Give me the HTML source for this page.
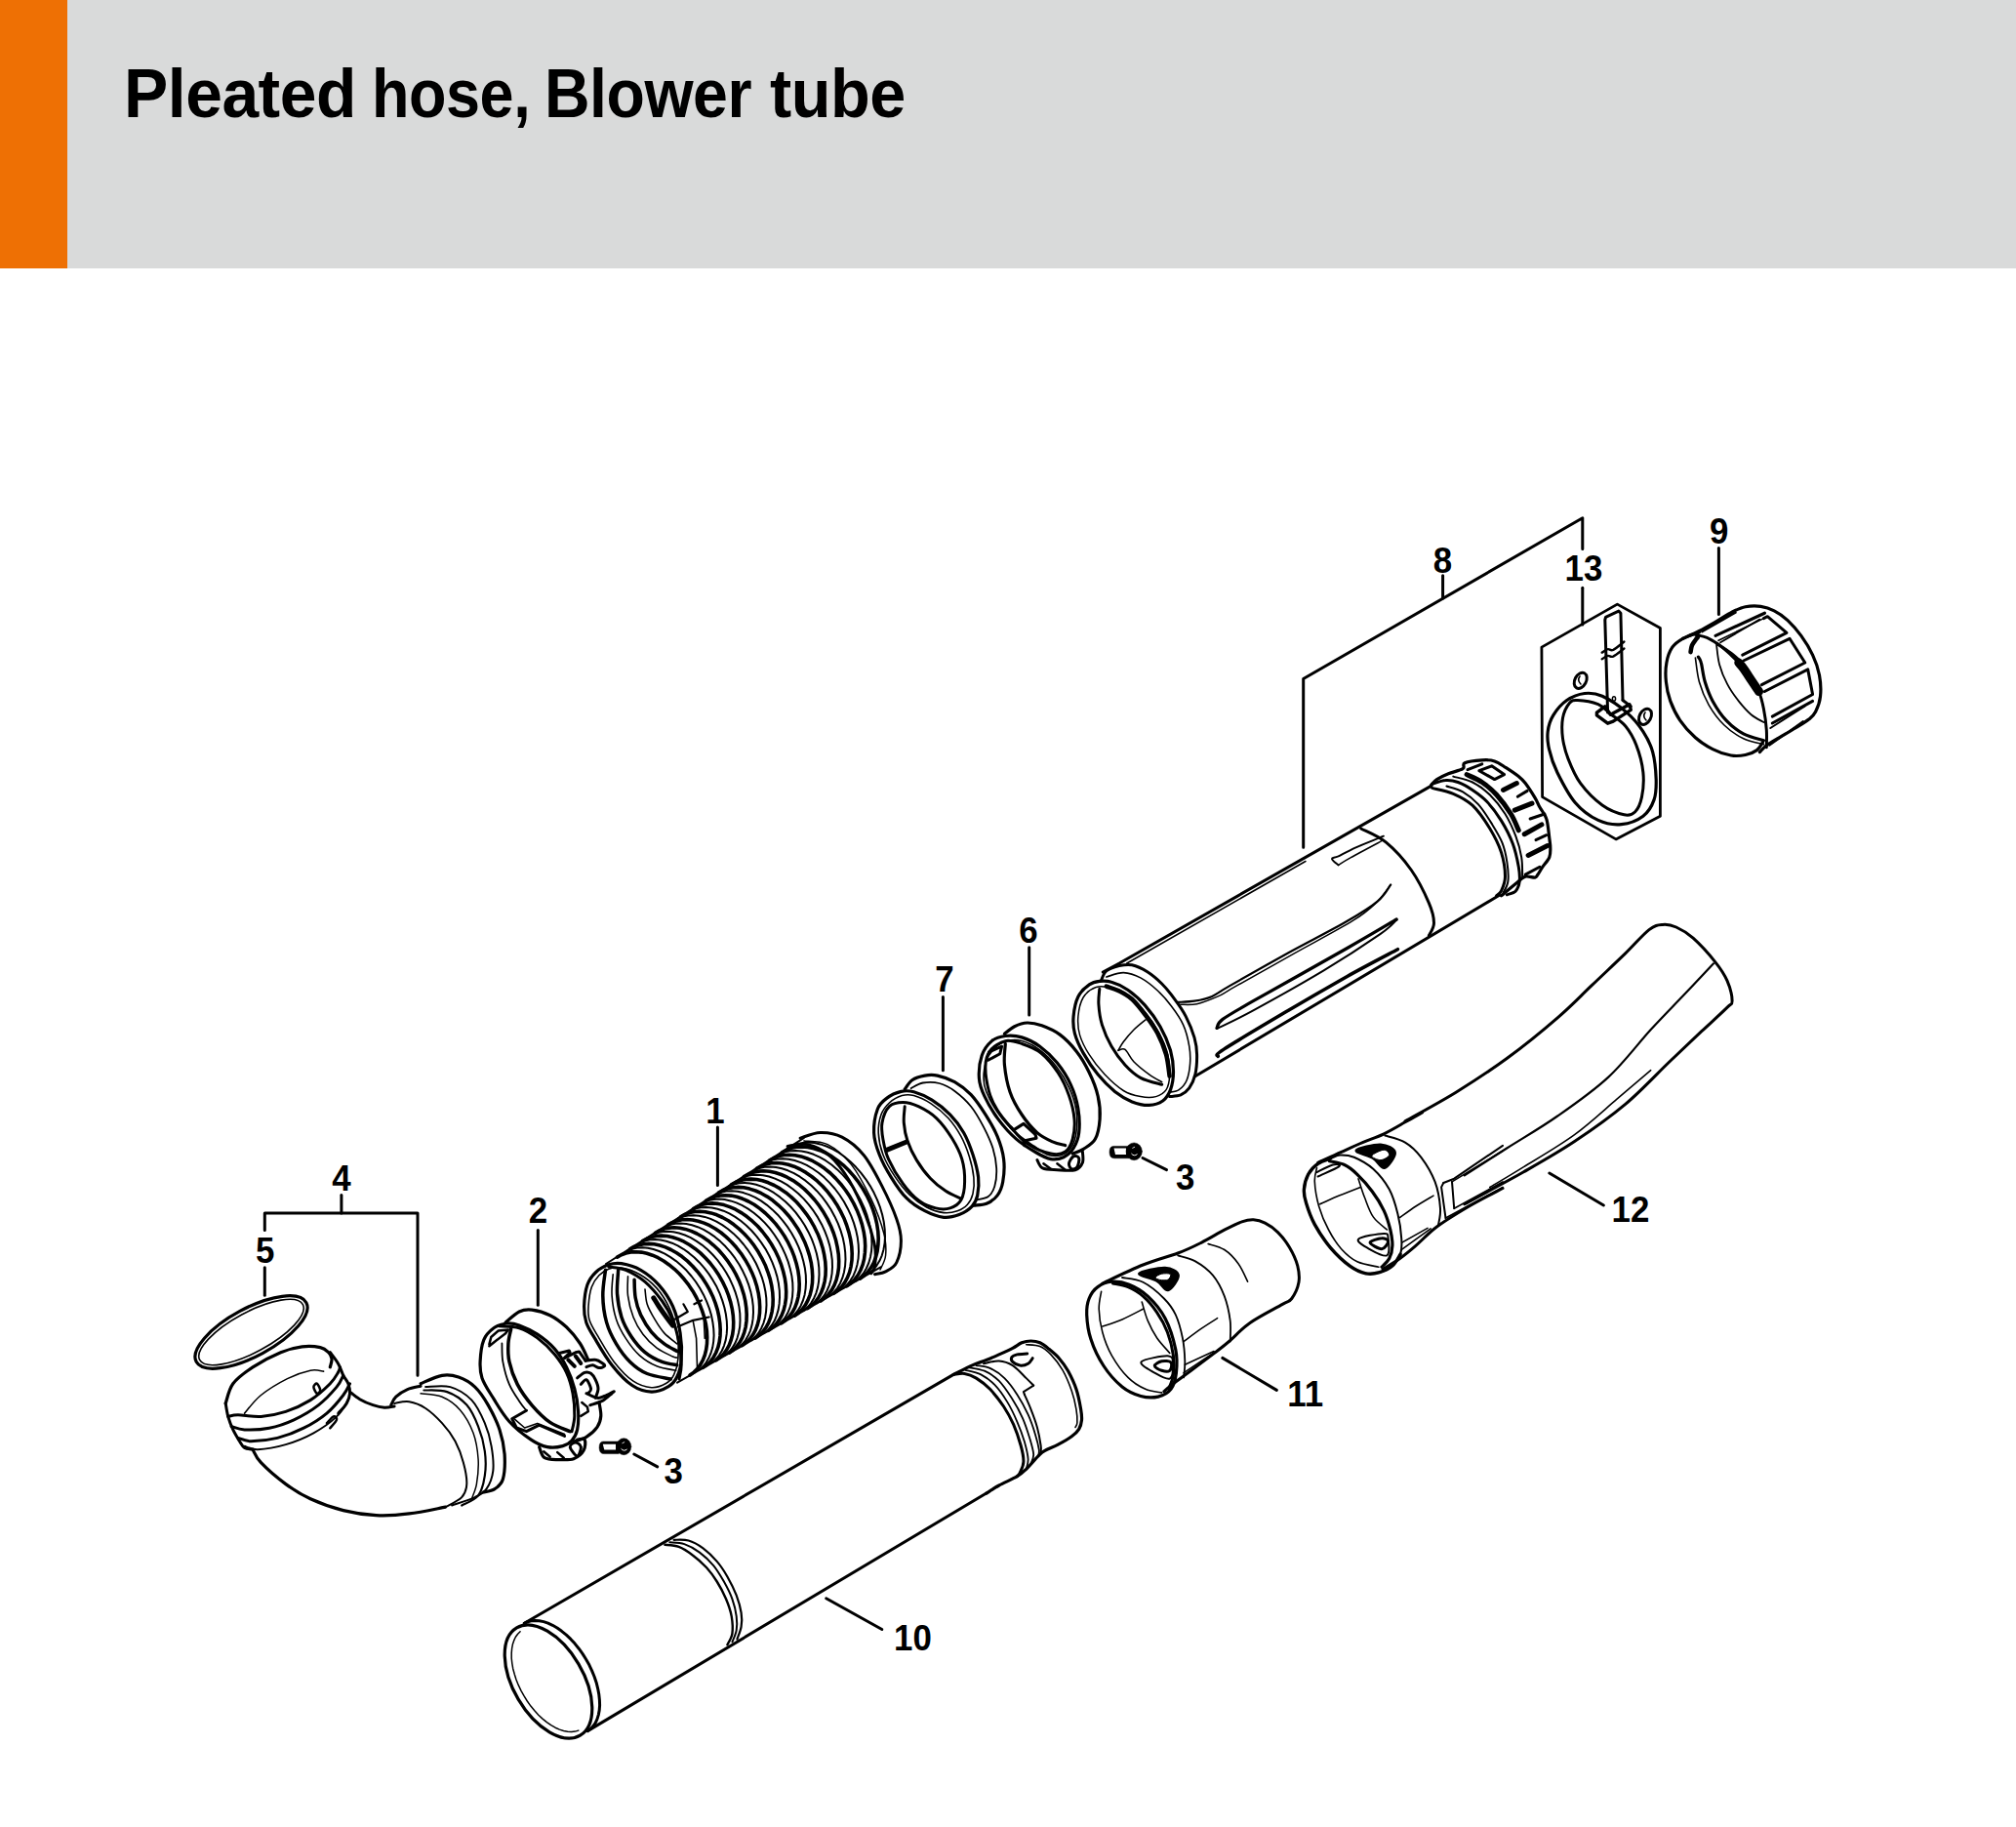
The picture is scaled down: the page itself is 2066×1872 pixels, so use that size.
<!DOCTYPE html>
<html><head><meta charset="utf-8"><style>
html,body{margin:0;padding:0;background:#fff;width:2066px;height:1872px;overflow:hidden}
#hdr{position:absolute;left:0;top:0;width:2066px;height:275px;background:#d9dada}
#bar{position:absolute;left:0;top:0;width:69px;height:275px;background:#ee7004}
.tw{position:absolute;top:55.5px;font-family:"Liberation Sans",sans-serif;font-weight:bold;font-size:70.5px;line-height:80px;color:#000;white-space:nowrap;letter-spacing:-0.5px;transform:scaleX(0.925);transform-origin:0 0}
svg{position:absolute;left:0;top:0}
svg path,svg ellipse{fill:none;stroke:#000;stroke-linecap:round;stroke-linejoin:round}
svg text{font-family:"Liberation Sans",sans-serif;font-weight:bold;text-anchor:middle;fill:#000}
</style></head><body>
<div id="hdr"></div><div id="bar"></div>
<div class="tw" style="left:127.19px;transform:scaleX(0.9622)">Pleated</div><div class="tw" style="left:380.53px;transform:scaleX(0.893)">hose,</div><div class="tw" style="left:558.43px;transform:scaleX(0.9142)">Blower</div><div class="tw" style="left:789.05px;transform:scaleX(0.9458)">tube</div>
<svg width="2066" height="1872" viewBox="0 0 2066 1872">
<text transform="translate(1761.8 556.5) scale(0.93 1)" font-size="37.5">9</text>
<text transform="translate(1478.4 587) scale(0.93 1)" font-size="37.5">8</text>
<text transform="translate(1623 595) scale(0.93 1)" font-size="37.5">13</text>
<text transform="translate(968 1016.3) scale(0.93 1)" font-size="37.5">7</text>
<text transform="translate(1054 965.5) scale(0.93 1)" font-size="37.5">6</text>
<text transform="translate(733 1151) scale(0.93 1)" font-size="37.5">1</text>
<text transform="translate(350 1220.4) scale(0.93 1)" font-size="37.5">4</text>
<text transform="translate(551.4 1252.7) scale(0.93 1)" font-size="37.5">2</text>
<text transform="translate(271.7 1293.6) scale(0.93 1)" font-size="37.5">5</text>
<text transform="translate(1214.6 1218.8) scale(0.93 1)" font-size="37.5">3</text>
<text transform="translate(1671 1251.8) scale(0.93 1)" font-size="37.5">12</text>
<text transform="translate(1337.8 1441) scale(0.93 1)" font-size="37.5">11</text>
<text transform="translate(690.3 1519.7) scale(0.93 1)" font-size="37.5">3</text>
<text transform="translate(935.5 1691.2) scale(0.93 1)" font-size="37.5">10</text>
<path d="M1335.7 868.3 L1335.7 695.5 L1621.8 530.8 L1621.8 562.6" stroke-width="3"/>
<path d="M1478.6 589.8L1478.6 613" stroke-width="3"/>
<path d="M1621.8 602.3L1621.8 640" stroke-width="3"/>
<path d="M1761.4 561.4L1761.4 629.4" stroke-width="3"/>
<path d="M966.4 1021.5L966.4 1096.8" stroke-width="3"/>
<path d="M1054.7 970.7L1054.7 1039.9" stroke-width="3"/>
<path d="M735.4 1155L735.4 1214.5" stroke-width="3"/>
<path d="M271.3 1260.4 L271.3 1243 L428 1243 L428 1409.2" stroke-width="3"/>
<path d="M349.9 1224.4L349.9 1243" stroke-width="3"/>
<path d="M271.3 1298.8L271.3 1327.3" stroke-width="3"/>
<path d="M551.3 1260.4L551.3 1337.3" stroke-width="3"/>
<path d="M1171 1186.5L1195.5 1198.7" stroke-width="3"/>
<path d="M649.8 1490L673.7 1502.9" stroke-width="3"/>
<path d="M1587.8 1202L1643.4 1235" stroke-width="3"/>
<path d="M1252.8 1391.4L1308.3 1424.4" stroke-width="3"/>
<path d="M846.7 1637.8L903.8 1669.5" stroke-width="3"/>
<ellipse cx="562" cy="1723" rx="35.8" ry="64" transform="rotate(-30.5 562 1723)" stroke-width="3.2"/>
<path d="M592.8 1773.1 L589.4 1774.1 L585.7 1774.5 L581.7 1774.3 L577.6 1773.5 L573.4 1772.1 L569.1 1770.2 L564.7 1767.7 L560.3 1764.6 L556 1761.1 L551.8 1757.2 L547.8 1752.8 L543.9 1748.1 L540.3 1743 L537 1737.7 L534 1732.3 L531.3 1726.7 L529 1721 L527.2 1715.3 L525.7 1709.7 L524.8 1704.3 L524.2 1699 L524.2 1693.9 L524.6 1689.2 L525.4 1684.8 L526.7 1680.9 L528.4 1677.3 L530.6 1674.3 L533.1 1671.8" stroke-width="1.5"/>
<path d="M537.3 1663.3 L540.7 1661.7 L544.4 1660.7 L548.4 1660.4 L552.6 1660.7 L557.1 1661.6 L561.6 1663.1 L566.3 1665.3 L571 1668 L575.6 1671.3 L580.3 1675.1 L584.8 1679.4 L589.1 1684.1 L593.2 1689.2 L597.1 1694.6 L600.6 1700.2 L603.9 1706.1 L606.7 1712.1 L609.2 1718.2 L611.2 1724.2 L612.7 1730.3 L613.8 1736.1 L614.4 1741.8 L614.6 1747.2 L614.2 1752.4 L613.3 1757.1 L612 1761.4 L610.2 1765.3 L607.9 1768.6 L605.3 1771.4 L602.2 1773.6" stroke-width="3"/>
<path d="M537.3 1663.3L977.2 1408.4" stroke-width="3"/>
<path d="M602.2 1773.6L1010.8 1530" stroke-width="3"/>
<path d="M681.4 1582.8C683.7 1583.1 690.8 1583.1 695.6 1584.9C700.3 1586.7 705.1 1589.9 709.8 1593.5C714.6 1597 719.9 1601.8 724.1 1606.3C728.2 1610.8 731.4 1615.2 734.7 1620.5C738.1 1625.8 741.5 1632.4 744 1638.3C746.5 1644.2 748.6 1650.2 749.7 1656.1C750.7 1662 751.1 1669 750.4 1673.9C749.7 1678.7 746.2 1683.4 745.4 1685.3" stroke-width="2.4"/>
<path d="M686.3 1580.3C688.8 1580.6 696.2 1580.3 701.3 1582.1C706.4 1583.8 712 1586.9 716.9 1590.6C721.9 1594.3 727 1599.1 731.2 1604.1C735.3 1609.1 738.6 1614.8 741.9 1620.5C745.1 1626.2 748.3 1632.4 750.4 1638.3C752.5 1644.2 754 1650.7 754.7 1656.1C755.4 1661.4 755.4 1665.9 754.7 1670.3C754 1674.7 751.1 1680.4 750.4 1682.4" stroke-width="2"/>
<path d="M690.6 1577.8C693.1 1577.9 700.6 1577.1 705.6 1578.5C710.5 1579.9 715.6 1582.8 720.5 1586.3C725.4 1589.9 730.6 1595 734.7 1599.9C738.9 1604.7 742.1 1609.7 745.4 1615.5C748.7 1621.3 752.3 1628.6 754.7 1634.7C757 1640.9 758.8 1647.2 759.6 1652.5C760.5 1657.9 760.4 1662.3 759.6 1666.8C758.9 1671.3 756.1 1677.4 755.4 1679.6" stroke-width="2.2"/>
<path d="M977.2 1408.4C980.3 1406.9 990.3 1401.6 995.9 1399.1C1001.5 1396.6 1006.1 1395.4 1010.8 1393.5C1015.4 1391.7 1019.3 1390 1023.8 1387.9C1028.3 1385.9 1033.9 1383.4 1037.8 1381.4C1041.6 1379.4 1044 1377.1 1047.1 1375.8C1050.2 1374.6 1053.3 1374 1056.4 1374C1059.5 1374 1062.6 1374.4 1065.7 1375.8C1068.8 1377.2 1071.8 1379.7 1075 1382.3C1078.3 1385 1082 1387.9 1085.3 1391.7C1088.5 1395.4 1091.6 1399.4 1094.6 1404.7C1097.5 1410 1100.8 1416.8 1102.9 1423.3C1105.1 1429.8 1106.7 1438.5 1107.6 1443.8C1108.5 1449.1 1108.8 1451.6 1108.5 1455C1108.2 1458.4 1107.4 1461.5 1105.7 1464.3C1104 1467.1 1101.9 1469.1 1098.3 1471.7C1094.7 1474.4 1089 1477.6 1084.3 1480.1C1079.7 1482.6 1073.8 1484.6 1070.4 1486.6C1066.9 1488.6 1066.9 1489.1 1063.8 1492.2C1060.7 1495.3 1055.3 1501.8 1051.7 1505.3C1048.2 1508.7 1047.1 1509.9 1042.4 1512.7C1037.8 1515.5 1029.1 1519.1 1023.8 1522C1018.5 1524.9 1012.9 1528.8 1010.8 1530.1" stroke-width="3.2"/>
<path d="M1051.7 1377.7C1054.1 1378 1061.5 1377.8 1065.7 1379.6C1069.9 1381.3 1073 1383.9 1076.9 1387.9C1080.8 1392 1085.4 1397.6 1089 1403.8C1092.5 1410 1096 1418.5 1098.3 1425.2C1100.6 1431.8 1102 1438.4 1102.9 1443.8C1103.9 1449.2 1104 1454.7 1103.9 1457.8C1103.7 1460.9 1102.3 1461.6 1102 1462.4" stroke-width="1.6"/>
<path d="M977.2 1408.4C979.1 1408.3 984.5 1406.9 988.4 1407.5C992.3 1408.1 996.2 1409.5 1000.5 1412.1C1004.9 1414.8 1009.8 1418.5 1014.5 1423.3C1019.1 1428.1 1024.4 1435 1028.5 1441C1032.5 1447.1 1035.7 1453 1038.7 1459.6C1041.6 1466.3 1044.4 1474.7 1046.1 1481C1047.9 1487.4 1049.1 1493.1 1048.9 1497.8C1048.8 1502.5 1046.3 1506.5 1045.2 1509C1044.1 1511.5 1042.9 1512.1 1042.4 1512.7" stroke-width="3"/>
<path d="M989.3 1403.8C992 1404.5 1000.2 1405.9 1005.2 1408.4C1010.1 1410.9 1014.6 1414 1019.1 1418.7C1023.6 1423.3 1028.3 1430 1032.2 1436.4C1036.1 1442.7 1039.5 1450 1042.4 1456.8C1045.4 1463.7 1048 1471 1049.9 1477.3C1051.7 1483.7 1053.3 1490.4 1053.6 1495C1053.9 1499.7 1052 1503.5 1051.7 1505.3" stroke-width="1.8"/>
<path d="M992.1 1401C994.9 1401.6 1003.6 1402.4 1008.9 1404.7C1014.2 1407 1019.1 1410.3 1023.8 1414.9C1028.5 1419.6 1032.8 1426.3 1036.8 1432.6C1040.9 1439 1044.9 1446.1 1048 1453.1C1051.1 1460.1 1053.6 1468.3 1055.5 1474.5C1057.3 1480.7 1059 1486.2 1059.2 1490.4C1059.3 1494.5 1056.9 1498.1 1056.4 1499.7" stroke-width="1.8"/>
<path d="M1000.5 1399.1C1002.8 1399.6 1009.7 1399.7 1014.5 1401.9C1019.3 1404.1 1024.7 1407.6 1029.4 1412.1C1034 1416.6 1038.4 1422.7 1042.4 1428.9C1046.5 1435.1 1050.5 1442.6 1053.6 1449.4C1056.7 1456.2 1059.2 1463.8 1061 1469.9C1062.9 1475.9 1064.3 1482 1064.8 1485.7C1065.2 1489.4 1064 1491.1 1063.8 1492.2" stroke-width="1.8"/>
<path d="M1008 1397.2C1010.6 1396.8 1018.8 1394.1 1023.8 1394.5C1028.8 1394.8 1033.1 1396.2 1037.8 1399.1C1042.4 1402.1 1048.2 1408.7 1051.7 1412.1C1055.3 1415.6 1057.9 1418.3 1059.2 1419.6" stroke-width="2"/>
<path d="M1059.2 1419.6 L1048.9 1426.1 L1049.9 1428.9" stroke-width="2"/>
<path d="M1049.9 1428.9C1051 1431.4 1054.2 1438.2 1056.4 1443.8C1058.6 1449.4 1061.2 1456.2 1062.9 1462.4C1064.6 1468.6 1066 1476.7 1066.6 1481C1067.3 1485.4 1066.6 1487.3 1066.6 1488.5" stroke-width="2"/>
<path d="M1052.7 1387C1051 1387.2 1045.1 1387.3 1042.4 1387.9C1039.8 1388.6 1037.6 1389.5 1036.8 1390.7C1036.1 1392 1036.4 1394 1037.8 1395.4C1039.2 1396.8 1042.6 1398.8 1045.2 1399.1C1047.9 1399.4 1051.4 1398.5 1053.6 1397.2C1055.8 1396 1057.5 1392.6 1058.2 1391.7" stroke-width="3"/>
<path d="M1113.7 1347.1C1113.4 1340.2 1114.2 1335.2 1116.1 1330.5C1118 1325.7 1121.1 1321.4 1125 1318.6C1128.9 1315.7 1133.9 1313.6 1139.3 1313.2C1144.6 1312.8 1151 1313.7 1157.1 1316.2C1163.3 1318.7 1170 1322.3 1176.2 1328.1C1182.3 1333.8 1189.3 1341.6 1194 1350.7C1198.8 1359.8 1202.9 1373.5 1204.8 1382.9C1206.6 1392.2 1206.2 1399.9 1205.4 1406.7C1204.6 1413.4 1203.1 1419.3 1200 1423.3C1196.9 1427.4 1192.1 1429.9 1186.9 1431.1C1181.7 1432.3 1175.2 1432.2 1169 1430.5C1162.9 1428.8 1156.3 1426.1 1150 1421C1143.7 1415.8 1136.3 1407.7 1131 1399.5C1125.6 1391.4 1120.7 1380.9 1117.9 1372.1C1115 1363.4 1114 1354.1 1113.7 1347.1Z" stroke-width="3.2"/>
<path d="M1128.6 1323.3C1128.2 1326.3 1126 1334.2 1126.2 1341.2C1126.4 1348.1 1127.6 1357.1 1129.8 1365C1131.9 1372.9 1134.9 1381.1 1139.3 1388.8C1143.7 1396.5 1150.2 1405.7 1156 1411.4C1161.7 1417.2 1168.1 1420.8 1173.8 1423.3C1179.6 1425.9 1187.7 1426.3 1190.5 1426.9" stroke-width="1.6"/>
<path d="M1140.5 1315C1143.1 1315.6 1150.8 1316.4 1156 1318.6C1161.1 1320.8 1166.5 1323.7 1171.4 1328.1C1176.4 1332.5 1181.5 1338.6 1185.7 1344.8C1189.9 1350.9 1193.7 1357.7 1196.4 1365C1199.2 1372.3 1201.4 1381.5 1202.4 1388.8C1203.4 1396.2 1203.2 1403.3 1202.4 1409C1201.6 1414.8 1198.4 1421 1197.6 1423.3" stroke-width="3"/>
<path d="M1170.2 1334C1171.2 1337.2 1173.6 1346.9 1176.2 1353.1C1178.8 1359.2 1181.9 1365.4 1185.7 1371C1189.5 1376.5 1196.6 1383.8 1198.8 1386.4" stroke-width="1.6"/>
<path d="M1150 1309C1153.6 1309.8 1164.3 1310.2 1171.4 1313.8C1178.6 1317.4 1187.3 1324.9 1192.9 1330.5C1198.4 1336 1201.6 1340.4 1204.8 1347.1C1207.9 1353.9 1210.3 1363 1211.9 1371C1213.5 1378.9 1214.1 1388 1214.3 1394.8C1214.5 1401.5 1213.3 1408.7 1213.1 1411.4" stroke-width="1.8"/>
<path d="M1207.1 1286.4C1210.1 1287.4 1219 1289 1225 1292.4C1231 1295.8 1237.9 1300.7 1242.9 1306.7C1247.8 1312.6 1251.8 1320.4 1254.8 1328.1C1257.7 1335.8 1259.7 1345.4 1260.7 1353.1C1261.7 1360.8 1260.7 1371 1260.7 1374.5" stroke-width="1.8"/>
<path d="M1129.8 1315C1136.7 1311.8 1158.5 1301.1 1171.4 1296C1184.3 1290.8 1197.2 1287.8 1207.1 1284C1217.1 1280.3 1223 1277.3 1231 1273.3C1238.9 1269.4 1247.8 1263.8 1254.8 1260.2C1261.7 1256.7 1267.7 1253.7 1272.6 1251.9C1277.6 1250.2 1280.6 1249.6 1284.5 1249.8C1288.5 1250 1292.3 1251 1296.4 1253.1C1300.6 1255.2 1305.4 1258.5 1309.5 1262.6C1313.7 1266.8 1318.1 1272.3 1321.4 1278.1C1324.8 1283.8 1328.2 1291.2 1329.8 1297.1C1331.3 1303.1 1331.9 1308.3 1331 1313.8C1330 1319.4 1326.6 1326.7 1323.8 1330.5C1321 1334.2 1321.4 1332.3 1314.3 1336.4C1307.1 1340.6 1290.1 1349.1 1281 1355.5C1271.8 1361.8 1265.9 1369.2 1259.5 1374.5C1253.2 1379.9 1249.6 1382.5 1242.9 1387.6C1236.1 1392.8 1226 1400.3 1219 1405.5C1212.1 1410.6 1205.6 1415.2 1201.2 1418.6C1196.8 1421.9 1194.2 1424.5 1192.9 1425.7" stroke-width="3"/>
<path d="M1238.1 1274.5C1240.9 1275.5 1249.6 1277.1 1254.8 1280.5C1259.9 1283.8 1265.1 1289.3 1269 1294.8C1273 1300.2 1277 1310.1 1278.6 1313.2" stroke-width="1.6"/>
<path d="M1213.1 1374.5C1216.1 1372.3 1225.2 1365.4 1231 1361.4C1236.7 1357.5 1244.8 1352.5 1247.6 1350.7" stroke-width="1.6"/>
<path d="M1129.8 1359C1133.1 1357.9 1143.1 1354.9 1150 1351.9C1156.9 1348.9 1167.9 1343 1171.4 1341.2" stroke-width="1.6"/>
<path d="M1167.3 1304.9C1168.7 1302.6 1187.3 1298.6 1194 1298.9C1200.8 1299.2 1207.2 1302.8 1207.7 1306.7C1208.2 1310.5 1200.7 1321.2 1197 1322.1C1193.4 1323.1 1190.7 1315.5 1185.7 1312.6C1180.8 1309.7 1165.9 1307.2 1167.3 1304.9Z" stroke-width="2.4" style="fill:#000"/>
<path d="M1183.9 1308.8C1184.2 1307.8 1187.9 1305.8 1190.5 1305.2C1193.1 1304.7 1198.3 1304.5 1199.4 1305.5C1200.5 1306.5 1198.8 1310.2 1197 1311.2C1195.2 1312.2 1190.9 1311.8 1188.7 1311.4C1186.5 1311 1183.6 1309.8 1183.9 1308.8Z" stroke-width="1" style="fill:#fff"/>
<path d="M1169.6 1395.4C1172 1392.5 1192.3 1388.9 1197.6 1389.4C1203 1389.9 1201.6 1394.5 1201.8 1398.3C1202 1402.2 1201.9 1411.2 1198.8 1412.6C1195.7 1414 1188.2 1409.5 1183.3 1406.7C1178.5 1403.8 1167.3 1398.2 1169.6 1395.4Z" stroke-width="2"/>
<path d="M1183.3 1399.5C1183.3 1397.9 1187.7 1395.4 1190.5 1394.8C1193.3 1394.2 1198.6 1394.4 1200 1396C1201.4 1397.5 1200.4 1402.9 1198.8 1404.3C1197.2 1405.7 1193.1 1405.1 1190.5 1404.3C1187.9 1403.5 1183.3 1401.1 1183.3 1399.5Z" stroke-width="3"/>
<path d="M1214.3 1398.3L1244 1384.6" stroke-width="1.6"/>
<path d="M1213.1 1406.7L1245.2 1385.2" stroke-width="1.6"/>
<path d="M1336.4 1218.6C1336.7 1213.7 1338.4 1207.7 1340.7 1203.3C1343.1 1198.9 1346.7 1195.1 1350.6 1192.4C1354.4 1189.7 1359.8 1188.4 1363.6 1186.9C1367.5 1185.5 1369.5 1183.8 1373.5 1183.6C1377.5 1183.5 1382 1183.5 1387.7 1185.8C1393.3 1188.2 1401.3 1192.4 1407.3 1197.8C1413.3 1203.3 1419.5 1210.9 1423.7 1218.6C1427.8 1226.2 1430.3 1235.3 1432.4 1243.7C1434.5 1252 1435.8 1261.9 1436.2 1268.8C1436.7 1275.7 1436.7 1280.4 1435.1 1285.1C1433.6 1289.9 1430.5 1294 1426.9 1297.1C1423.4 1300.2 1418.4 1302.4 1413.8 1303.7C1409.3 1305 1404.8 1305.9 1399.7 1304.8C1394.6 1303.7 1389.3 1301.5 1383.3 1297.1C1377.3 1292.8 1369.7 1285.7 1363.6 1278.6C1357.6 1271.5 1351.5 1262.2 1347.3 1254.6C1343.1 1246.9 1340.4 1238.8 1338.6 1232.8C1336.7 1226.8 1336 1223.5 1336.4 1218.6Z" stroke-width="2"/>
<path d="M1363.6 1186.9C1361.5 1187.8 1354.4 1189.7 1350.6 1192.4C1346.7 1195.1 1343.1 1198.9 1340.7 1203.3C1338.4 1207.7 1336.7 1213.7 1336.4 1218.6C1336 1223.5 1336.7 1226.8 1338.6 1232.8C1340.4 1238.8 1343.1 1246.9 1347.3 1254.6C1351.5 1262.2 1357.6 1271.5 1363.6 1278.6C1369.7 1285.7 1377.3 1292.8 1383.3 1297.1C1389.3 1301.5 1394.6 1303.7 1399.7 1304.8C1404.8 1305.9 1409.3 1305 1413.8 1303.7C1418.4 1302.4 1423.4 1300.2 1426.9 1297.1C1430.5 1294 1433.8 1287.1 1435.1 1285.1" stroke-width="3.4"/>
<path d="M1362.6 1189.7C1365.1 1190.3 1373.1 1191.2 1377.8 1193.5C1382.6 1195.7 1386.2 1198.7 1390.9 1203.3C1395.7 1207.8 1401.7 1214.6 1406.2 1220.8C1410.8 1226.9 1415.1 1233.8 1418.2 1240.4C1421.3 1246.9 1423.3 1254 1424.8 1260C1426.2 1266 1427.1 1271.5 1426.9 1276.4C1426.8 1281.3 1425.5 1285.9 1423.7 1289.5C1421.8 1293.1 1417.3 1296.8 1416 1298.2" stroke-width="3.2"/>
<path d="M1349.5 1196.7C1349.1 1199.1 1346.9 1204.4 1347.3 1210.9C1347.6 1217.5 1349.3 1227.8 1351.6 1236C1354 1244.2 1357.6 1252.8 1361.5 1260C1365.3 1267.3 1369.7 1274.2 1374.6 1279.7C1379.5 1285.1 1384.6 1289.7 1390.9 1292.8C1397.3 1295.9 1409.1 1297.3 1412.8 1298.2" stroke-width="1.6"/>
<path d="M1392 1207.7C1393.1 1210.9 1396 1220.8 1398.6 1227.3C1401.1 1233.8 1403.5 1241.5 1407.3 1246.9C1411.1 1252.4 1419.1 1257.9 1421.5 1260" stroke-width="1.6"/>
<path d="M1352.7 1233.8C1356 1232.4 1365.5 1228 1372.4 1225.1C1379.3 1222.2 1390.6 1217.8 1394.2 1216.4" stroke-width="1.6"/>
<path d="M1349.5 1201.1C1352.2 1199.8 1362 1194.5 1365.8 1193.5C1369.7 1192.5 1374.9 1193.1 1372.4 1195.1C1369.8 1197.1 1354.2 1203.7 1350.6 1205.5" stroke-width="2"/>
<path d="M1419.3 1163.5C1422.8 1164.6 1433.9 1166.8 1440 1170.6C1446.2 1174.3 1451.3 1179.1 1456.4 1185.8C1461.5 1192.6 1467.3 1202.2 1470.6 1210.9C1473.9 1219.7 1475.5 1230.8 1476 1238.2C1476.6 1245.7 1474.2 1252.8 1473.9 1255.7" stroke-width="2"/>
<path d="M1434.6 1247.5C1437.3 1245.6 1445.2 1239.8 1450.9 1236C1456.7 1232.3 1466 1226.9 1469 1225.1" stroke-width="1.6"/>
<path d="M1389.8 1178.7C1391.1 1176.4 1408.3 1172.4 1414.9 1172.7C1421.6 1173.1 1429 1176.9 1429.7 1180.9C1430.3 1184.9 1422.5 1195.7 1418.8 1196.7C1415 1197.7 1412.1 1189.9 1407.3 1186.9C1402.5 1183.9 1388.6 1181.1 1389.8 1178.7Z" stroke-width="2.5" style="fill:#000"/>
<path d="M1405.7 1184.2C1406.2 1182.5 1415.2 1178.3 1418.2 1178.2C1421.2 1178.1 1424.2 1181.9 1423.7 1183.6C1423.1 1185.4 1417.9 1188.5 1414.9 1188.6C1411.9 1188.7 1405.1 1185.9 1405.7 1184.2Z" stroke-width="1" style="fill:#fff"/>
<path d="M1392 1269.9C1394.2 1267 1413.1 1264 1418.2 1263.9C1423.3 1263.7 1422 1265 1422.6 1268.8C1423.1 1272.5 1424.4 1284.2 1421.5 1286.2C1418.6 1288.2 1410 1283.5 1405.1 1280.8C1400.2 1278 1389.8 1272.7 1392 1269.9Z" stroke-width="2"/>
<path d="M1404 1273.1C1404 1271.3 1412.9 1268.9 1416 1268.8C1419.1 1268.6 1422.6 1270.2 1422.6 1272C1422.6 1273.9 1419.1 1279.5 1416 1279.7C1412.9 1279.9 1404 1274.9 1404 1273.1Z" stroke-width="3"/>
<path d="M1350.6 1191.3C1354.6 1189.5 1366.9 1183.8 1374.6 1180.4C1382.2 1176.9 1389.1 1173.6 1396.4 1170.6C1403.7 1167.5 1410.9 1165.3 1418.2 1161.8C1425.5 1158.4 1433.5 1153.5 1440 1149.8C1446.6 1146.2 1454.6 1141.6 1457.5 1140" stroke-width="3"/>
<path d="M1436.8 1273.1L1463 1258.4" stroke-width="1.6"/>
<path d="M1435.7 1280.8L1466.2 1258.9" stroke-width="1.6"/>
<path d="M1479.3 1212 L1477.1 1216.4 L1481.5 1248" stroke-width="2"/>
<path d="M1488 1210.9 L1490.2 1238.2" stroke-width="2"/>
<path d="M1417.1 1300.4C1420 1298.6 1428.9 1293.5 1434.6 1289.5C1440.2 1285.5 1444.6 1281.9 1450.9 1276.4C1457.3 1270.9 1463.7 1263.5 1472.8 1256.8C1481.9 1250 1494.3 1242.6 1505.5 1236C1516.7 1229.5 1534.2 1220.6 1540 1217.5" stroke-width="3"/>
<path d="M1540 1173.8 L1490.2 1207.7 L1479.3 1212" stroke-width="2"/>
<path d="M1540 1179.3 L1488 1210.9" stroke-width="1.6"/>
<path d="M1481.5 1248 L1540 1216.4" stroke-width="1.6"/>
<path d="M1490.2 1238.2 L1540 1210.9" stroke-width="1.6"/>
<path d="M1440 1148.8C1448.7 1143.8 1474.7 1129.9 1492.1 1119.2C1509.4 1108.5 1526.8 1097.2 1544.2 1084.5C1561.5 1071.8 1581.8 1055.3 1596.2 1042.8C1610.7 1030.4 1619.4 1020.9 1631 1009.9C1642.5 998.9 1655.9 986.4 1665.7 976.9C1675.5 967.3 1683.6 957.5 1690 952.6C1696.4 947.7 1699.3 947.8 1703.9 947.4C1708.5 946.9 1712.6 947.7 1717.8 950C1723 952.3 1728.5 955.3 1735.1 961.2C1741.8 967.2 1751.9 978.3 1757.7 985.6C1763.5 992.8 1767 998 1769.9 1004.7C1772.8 1011.3 1775.1 1020.9 1775.1 1025.5C1775.1 1030.1 1775.1 1027.2 1769.9 1032.4C1764.7 1037.6 1753.7 1047.5 1743.8 1056.7C1734 1066 1723.9 1075.5 1710.8 1088C1697.8 1100.4 1681.9 1117.8 1665.7 1131.4C1649.5 1145 1631 1158 1613.6 1169.6C1596.2 1181.2 1580.3 1190.1 1561.5 1200.8C1542.7 1211.5 1510.9 1228.3 1500.8 1233.8" stroke-width="3"/>
<path d="M1500.8 1204.3C1508 1199.7 1528.3 1186.7 1544.2 1176.5C1560.1 1166.4 1578.9 1155.7 1596.2 1143.5C1613.6 1131.4 1632.4 1118.4 1648.3 1103.6C1664.2 1088.9 1678.7 1069.2 1691.7 1055C1704.8 1040.8 1715.8 1029.8 1726.5 1018.5C1737.2 1007.3 1751.1 992.5 1756 987.3" stroke-width="2.2"/>
<path d="M1526.8 1216.5C1532.6 1213 1547.1 1204.6 1561.5 1195.6C1576 1186.7 1597.7 1174.2 1613.6 1162.6C1629.5 1151.1 1644 1137.2 1657 1126.2C1670 1115.2 1685.9 1101.6 1691.7 1096.7" stroke-width="1.6"/>
<path d="M1657.4 619.1 L1701.4 643.5 L1701.4 836.2 L1656 859.9 L1580.6 816.6 L1579.9 663.1Z" stroke-width="2.8"/>
<path d="M1586.2 749.6C1586.9 743.8 1588.5 738.2 1591.8 732.9C1595 727.5 1600.4 721.2 1605.7 717.5C1611.1 713.8 1617.8 711.2 1623.9 710.5C1629.9 709.8 1634.8 710.1 1642 713.3C1649.2 716.6 1660.2 724 1667.2 730.1C1674.1 736.1 1679.5 742.9 1683.9 749.6C1688.3 756.4 1691.5 762.4 1693.7 770.6C1695.9 778.7 1696.9 790.3 1697.2 798.5C1697.4 806.6 1697.3 813.2 1695.1 819.4C1692.9 825.7 1689.5 832 1683.9 836.2C1678.3 840.4 1669.2 843.9 1661.6 844.6C1653.9 845.3 1645.7 844.1 1637.8 840.4C1629.9 836.7 1621.1 830.4 1614.1 822.2C1607.1 814.1 1600.4 800.6 1595.9 791.5C1591.5 782.4 1589.2 774.8 1587.6 767.8C1585.9 760.8 1585.5 755.4 1586.2 749.6Z" stroke-width="3.2"/>
<path d="M1601.5 735.7C1602.7 729.6 1606 723.3 1608.5 720.3C1611.1 717.3 1612 717.3 1616.9 717.5C1621.8 717.7 1632.2 719.4 1637.8 721.7C1643.4 724 1645.7 727.8 1650.4 731.5C1655.1 735.2 1661.3 738.7 1665.8 744C1670.2 749.4 1673.9 755.7 1676.9 763.6C1680 771.5 1683 782.7 1683.9 791.5C1684.8 800.4 1683.9 809.9 1682.5 816.6C1681.1 823.4 1678.6 829 1675.5 832C1672.5 835 1669.9 836 1664.4 834.8C1658.8 833.6 1649.5 830.4 1642 825C1634.6 819.7 1625.5 810.6 1619.7 802.7C1613.9 794.8 1610.1 785.2 1607.1 777.6C1604.1 769.9 1602.5 763.6 1601.5 756.6C1600.6 749.6 1600.4 741.7 1601.5 735.7Z" stroke-width="3"/>
<path d="M1647.6 730.1 L1644.8 635.1 L1645.5 632.3 L1658.8 626.1 L1660.9 628.2 L1663 717.5" stroke-width="3"/>
<path d="M1641.7 668.6C1642.7 668.1 1645.7 665.6 1647.6 665.2C1649.5 664.7 1650.4 667.1 1653.2 665.9C1656 664.6 1662.5 658.9 1664.4 657.5" stroke-width="2.4"/>
<path d="M1641.7 675.3C1642.7 674.8 1645.7 672.3 1647.6 671.9C1649.5 671.4 1650.4 673.8 1653.2 672.6C1656 671.3 1662.5 665.8 1664.4 664.5" stroke-width="2.4"/>
<path d="M1636.4 730.1 L1644.8 723.8 L1650.4 732.2 L1669.9 721.7 L1671.3 727.3 L1653.2 739.2 L1647.6 741.2 L1636.4 732.9Z" stroke-width="3.4"/>
<path d="M1663 717.5 L1671.3 723.8" stroke-width="3"/>
<ellipse cx="1654" cy="716" rx="1.6" ry="2.2" stroke-width="1.5"/>
<ellipse cx="1619.7" cy="697.3" rx="5.8" ry="8.6" transform="rotate(28 1619.7 697.3)" stroke-width="3"/>
<ellipse cx="1686" cy="734.3" rx="5.8" ry="8.6" transform="rotate(28 1686 734.3)" stroke-width="3"/>
<path d="M1619 693Q1616 697 1620 701" stroke-width="1.6"/>
<path d="M1686 730Q1683 734 1687 738" stroke-width="1.6"/>
<path d="M1741.4 647.9C1738.6 649 1729.2 651.8 1724.6 654.3C1720 656.9 1716.6 659.1 1713.8 663.2C1711 667.3 1708.9 673.1 1707.9 679C1706.8 684.9 1706.7 692.1 1707.4 698.7C1708 705.2 1709.4 711.8 1711.8 718.4C1714.2 724.9 1717.4 731.8 1721.7 738.1C1725.9 744.3 1731.9 750.9 1737.4 755.8C1743 760.7 1749.1 764.6 1755.2 767.6C1761.2 770.7 1768.3 773.1 1773.9 774C1779.5 775 1784.2 774.4 1788.7 773.5C1793.1 772.6 1797.5 770.8 1800.5 768.6C1803.4 766.5 1805.4 762.1 1806.4 760.7" stroke-width="3.2"/>
<path d="M1724.6 654.3C1727.4 653 1735.6 649.4 1741.4 646.5C1747.1 643.5 1753.5 639.8 1759.1 636.6C1764.7 633.4 1770 629.7 1774.9 627.2C1779.8 624.8 1783.7 622.8 1788.7 621.8C1793.6 620.8 1799.5 620.7 1804.4 621.3C1809.4 622 1813.6 623.4 1818.2 625.8C1822.8 628.1 1827.4 631.3 1832 635.6C1836.6 639.9 1841.5 645.5 1845.8 651.4C1850.1 657.3 1854.5 664.4 1857.6 671.1C1860.8 677.8 1863.2 684.7 1864.5 691.8C1865.8 698.8 1866.2 707.2 1865.5 713.4C1864.9 719.7 1862.6 725.3 1860.6 729.2C1858.6 733.2 1857.1 734.3 1853.7 737.1C1850.2 739.9 1845 742.8 1839.9 746C1834.8 749.1 1828.1 752.9 1823.2 755.8C1818.2 758.8 1813.6 761.2 1810.3 763.7C1807.1 766.2 1804.6 769.4 1803.4 770.6" stroke-width="3.2"/>
<path d="M1737.4 650.4C1739.4 650.9 1745.3 651.7 1749.3 653.3C1753.2 655 1757.1 657.5 1761.1 660.2C1765 663 1769.3 666.8 1772.9 670.1C1776.5 673.4 1781.1 678.3 1782.8 680" stroke-width="3"/>
<path d="M1740.4 673.1C1740.9 674 1742.2 674.7 1743.3 679C1744.5 683.2 1745.3 692.1 1747.3 698.7C1749.3 705.2 1751.6 711.8 1755.2 718.4C1758.8 724.9 1763.7 732.5 1769 738.1C1774.2 743.7 1780.3 748.4 1786.7 751.9C1793.1 755.3 1803.9 757.6 1807.4 758.8" stroke-width="3.2"/>
<path d="M1737.4 674C1738.1 678.1 1739.1 690.6 1741.4 698.7C1743.7 706.7 1747 714.9 1751.2 722.3C1755.5 729.7 1761.1 737.3 1767 743C1772.9 748.8 1780 753.5 1786.7 756.8C1793.4 760.1 1803.9 761.7 1807.4 762.7" stroke-width="1.6"/>
<path d="M1732.5 668.1C1732.8 667 1733.1 663.4 1734 661.2C1734.9 659.1 1736.9 656.7 1737.9 655.3C1738.9 653.9 1739.6 653.3 1739.9 652.9" stroke-width="4.5"/>
<path d="M1759.1 661.2C1759.6 664.5 1760.3 674.4 1762.1 680.9C1763.9 687.5 1766.7 694.4 1770 700.6C1773.2 706.9 1777.7 713.1 1781.8 718.4C1785.9 723.6 1790.3 728.6 1794.6 732.2C1798.9 735.8 1805.3 738.7 1807.4 740" stroke-width="1.8"/>
<path d="M1759.1 659.3C1761.6 660.9 1769.6 665.8 1773.9 669.1C1778.2 672.4 1781.4 674.9 1784.7 679C1788 683.1 1790.6 688.8 1793.6 693.7C1796.6 698.7 1800.2 703.1 1802.5 708.5C1804.8 713.9 1806.1 719.7 1807.4 726.3C1808.7 732.8 1809.9 741.4 1810.3 747.9C1810.8 754.5 1810.3 762.7 1810.3 765.7" stroke-width="3"/>
<path d="M1781.8 679C1782.6 680 1784.6 681.9 1786.7 684.9C1788.8 687.8 1792 692.8 1794.6 696.7C1797.2 700.6 1801.1 706.6 1802.5 708.5" stroke-width="9"/>
<path d="M1744.3 647.4 L1778.8 627.7" stroke-width="2"/>
<path d="M1747.3 644.5 L1776.8 627.7" stroke-width="1.6"/>
<path d="M1758.1 651.4 L1808.4 628.2" stroke-width="3.2"/>
<path d="M1763.1 658.3 L1803.4 634.6" stroke-width="1.8"/>
<path d="M1761.1 656.3 L1807.4 633.6" stroke-width="1.6"/>
<path d="M1807.4 633.6 L1811.3 631.7 L1831 648.4 L1785.7 671.1" stroke-width="3"/>
<path d="M1786.7 677 L1834 654.3 L1849.8 679 L1805.4 701.6" stroke-width="3"/>
<path d="M1808.4 708.5 L1852.7 685.9 L1857.6 711.5 L1816.3 734.1" stroke-width="3"/>
<path d="M1816.3 741 L1857.6 718.4" stroke-width="3"/>
<path d="M1814.3 746 L1849.8 723.3" stroke-width="2"/>
<path d="M1813.3 763.7 L1847.8 739.1" stroke-width="2"/>
<path d="M1100.1 1041.3C1100.7 1035 1102.2 1026.6 1104.9 1021.2C1107.6 1015.8 1112.6 1011.5 1116.3 1008.9C1119.9 1006.3 1123 1005.8 1126.8 1005.4C1130.6 1005 1134.2 1004.8 1139 1006.3C1143.9 1007.7 1150 1010.2 1155.7 1014.2C1161.4 1018.1 1167.6 1023.6 1173.2 1029.9C1178.7 1036.2 1184.6 1044.1 1188.9 1051.8C1193.3 1059.5 1197.2 1068.6 1199.5 1076.3C1201.7 1084.1 1202.5 1091.5 1202.5 1098.2C1202.5 1104.9 1201.3 1111.6 1199.5 1116.6C1197.6 1121.6 1195.2 1125.4 1191.6 1128C1187.9 1130.6 1182.8 1132.2 1177.6 1132.4C1172.3 1132.5 1165.9 1131.2 1160.1 1128.9C1154.2 1126.5 1148.4 1123 1142.5 1118.4C1136.7 1113.7 1130.4 1107.4 1125 1100.8C1119.6 1094.3 1114.1 1086 1110.1 1078.9C1106.2 1071.9 1103.1 1065.1 1101.4 1058.8C1099.7 1052.5 1099.5 1047.6 1100.1 1041.3Z" stroke-width="3.2"/>
<path d="M1104.9 1041.3C1105.5 1034.9 1107.1 1027 1110.1 1022C1113.2 1017.1 1118.5 1013.1 1123.3 1011.5C1128.1 1009.9 1133.5 1010.8 1139 1012.4C1144.6 1014 1150.7 1016.9 1156.5 1021.2C1162.4 1025.4 1168.8 1031.5 1174.1 1037.8C1179.3 1044.1 1184.3 1051.7 1188.1 1058.8C1191.9 1066 1195.1 1073.4 1196.8 1080.7C1198.6 1088 1198.9 1096.6 1198.6 1102.6C1198.3 1108.6 1197.4 1113.1 1195.1 1116.6C1192.7 1120.1 1188.9 1122.4 1184.6 1123.6C1180.2 1124.8 1174.4 1124.6 1168.8 1123.6C1163.3 1122.6 1157.4 1121.3 1151.3 1117.5C1145.2 1113.7 1137.9 1107 1132 1100.8C1126.2 1094.7 1120.5 1087.4 1116.3 1080.7C1112 1074 1108.5 1067.1 1106.6 1060.6C1104.7 1054 1104.3 1047.7 1104.9 1041.3Z" stroke-width="1.5"/>
<path d="M1126.8 1013.3C1126.6 1015.9 1125.5 1022.9 1125.9 1029C1126.3 1035.2 1127.2 1042.9 1129.4 1050.1C1131.6 1057.2 1135.1 1065.1 1139 1071.9C1143 1078.8 1148.1 1085.8 1153 1091.2C1158 1096.6 1162.5 1101 1168.8 1104.3C1175.1 1107.7 1187.1 1110.2 1190.7 1111.3" stroke-width="3"/>
<path d="M1133.8 1010.6C1135.8 1011.4 1141.7 1012.8 1146 1015C1150.4 1017.2 1155.4 1019.6 1160.1 1023.8C1164.7 1028 1169.7 1034.6 1174.1 1040.4C1178.4 1046.3 1182.8 1052.1 1186.3 1058.8C1189.8 1065.5 1193 1073.4 1195.1 1080.7C1197.1 1088 1198 1098.9 1198.6 1102.6" stroke-width="4.5"/>
<path d="M1146 1076.3C1146.9 1074.9 1148.7 1071.1 1151.3 1067.6C1153.9 1064.1 1158 1059.1 1161.8 1055.3C1165.6 1051.5 1172 1046.5 1174.1 1044.8" stroke-width="1.6"/>
<path d="M1146 1076.3C1147.2 1076.2 1150.4 1073.5 1153 1075.4C1155.7 1077.3 1157.7 1083.5 1161.8 1087.7C1165.9 1091.9 1172.7 1097.3 1177.6 1100.8C1182.4 1104.3 1188.5 1107.4 1190.7 1108.7" stroke-width="1.6"/>
<path d="M1128.5 1004.5C1129.4 1002.9 1130.7 997.4 1133.8 994.9C1136.8 992.4 1142.5 990.7 1146.9 989.6C1151.3 988.6 1155.2 987.7 1160.1 988.8C1164.9 989.8 1170.7 992.6 1175.8 995.8C1180.9 999 1186 1003.4 1190.7 1008C1195.4 1012.7 1199.7 1018.2 1203.8 1023.8C1207.9 1029.3 1211.9 1034.7 1215.2 1041.3C1218.6 1047.9 1222.1 1056.6 1224 1063.2C1225.9 1069.8 1226.5 1074.4 1226.6 1080.7C1226.7 1087 1226.2 1095.1 1224.9 1100.8C1223.5 1106.5 1221.2 1111.3 1218.7 1114.9C1216.2 1118.4 1213.3 1120.4 1210 1121.9C1206.6 1123.3 1200.5 1123.3 1198.6 1123.6" stroke-width="3"/>
<path d="M1133.8 1001C1136.7 1000.3 1145.5 996.5 1151.3 996.6C1157.1 996.8 1163 998.8 1168.8 1001.9C1174.6 1005 1181.1 1010.2 1186.3 1015C1191.6 1019.8 1196 1025 1200.3 1030.8C1204.7 1036.6 1209.5 1043.2 1212.6 1050.1C1215.7 1056.9 1217.6 1065.4 1218.7 1071.9C1219.9 1078.5 1220 1083.6 1219.6 1089.5C1219.2 1095.3 1218 1102.4 1216.1 1107C1214.2 1111.5 1211.1 1114.6 1208.2 1116.6C1205.3 1118.6 1200.2 1118.8 1198.6 1119.2" stroke-width="1.6"/>
<path d="M1130.3 996 L1147.1 987 L1466.9 805.1" stroke-width="3"/>
<path d="M1154.8 987 L1337.9 882.5" stroke-width="1.6"/>
<path d="M1224.4 1103 L1536.5 917.3" stroke-width="3"/>
<path d="M1394.7 849C1399 851.4 1411.9 856.1 1420.5 863.2C1429.1 870.3 1439 881.2 1446.3 891.5C1453.6 901.9 1460.4 916 1464.3 925.1C1468.2 934.1 1469.5 940.1 1469.5 945.7C1469.5 951.3 1465.2 956.5 1464.3 958.6" stroke-width="3"/>
<path d="M1417.9 856.7C1413.2 858.7 1397.3 864.9 1389.5 868.3C1381.8 871.8 1375.5 875.4 1371.5 877.4C1367.4 879.3 1365 878.4 1365 879.9C1365 881.4 1370.4 885.3 1371.5 886.4" stroke-width="2"/>
<path d="M1371.5 886.4C1373.6 885.1 1376.6 882.9 1384.4 878.6C1392.1 874.3 1412.3 863.6 1417.9 860.6" stroke-width="1.6"/>
<path d="M1207.2 1026.9C1210 1026.7 1218.3 1026.7 1224.1 1025.7C1229.9 1024.7 1236.1 1023.5 1242.1 1020.9C1248.2 1018.3 1247.2 1017.5 1260.2 1010.1C1273.3 1002.6 1300.4 987.4 1320.4 976.3C1340.5 965.3 1365.4 952.7 1380.6 943.8C1395.9 935 1404.5 929.6 1411.9 923.4C1419.4 917.1 1423 909.3 1425.2 906.5" stroke-width="2.2"/>
<path d="M1209.6 1029.3C1212.4 1029.2 1220.1 1030.1 1226.5 1028.7C1232.9 1027.3 1241.5 1023.9 1248.2 1020.9C1254.8 1017.9 1253.2 1018 1266.2 1010.7C1279.3 1003.3 1306.4 988.2 1326.4 976.9C1346.5 965.7 1372.6 952 1386.7 943.2C1400.7 934.5 1404.3 930.7 1410.7 924.6C1417.2 918.4 1422.8 909.5 1425.2 906.5" stroke-width="1.5"/>
<path d="M1247 1053.4C1248 1051.9 1246.8 1049 1253 1044.4C1259.2 1039.8 1263 1037.9 1284.3 1025.7C1305.6 1013.6 1356.1 985.5 1380.6 971.5C1405.1 957.6 1422.8 946.9 1431.2 942" stroke-width="3.2"/>
<path d="M1247 1054C1253.2 1050.9 1266 1045.3 1284.3 1035.3C1302.6 1025.4 1334.9 1007.4 1356.6 994.4C1378.2 981.4 1401.9 965.7 1414.4 957.1C1426.8 948.4 1428.4 945 1431.2 942.6" stroke-width="2"/>
<path d="M1248.2 1082.3C1249.2 1081.1 1242.1 1082.9 1254.2 1075.1C1266.2 1067.3 1299.3 1047.8 1320.4 1035.3C1341.5 1022.9 1362 1010.9 1380.6 1000.4C1399.3 990 1423.8 977.3 1432.4 972.7" stroke-width="3.5"/>
<path d="M1466.6 804.5C1467.6 803.5 1469.6 800.5 1472.5 798.6C1475.5 796.6 1479.9 794.5 1484.3 792.7C1488.8 790.9 1496.3 789.5 1499.1 787.7C1501.9 785.9 1497.8 783.3 1501.1 781.8C1504.4 780.3 1513.7 779.2 1518.8 778.9C1523.9 778.5 1527.5 778.5 1531.6 779.9C1535.7 781.2 1539.3 784.1 1543.4 786.7C1547.6 789.4 1553 793 1556.3 795.6C1559.5 798.2 1560.4 798.9 1563.2 802.5C1565.9 806.1 1570.5 813.2 1573 817.3C1575.5 821.4 1576 823.5 1577.9 827.1C1579.9 830.8 1583.2 833.7 1584.8 839C1586.5 844.2 1587.1 853.7 1587.8 858.7C1588.4 863.6 1588.8 865.2 1588.8 868.5C1588.8 871.8 1589.1 875.1 1587.8 878.4C1586.5 881.7 1582.9 885.3 1580.9 888.2C1578.9 891.2 1577.3 894.3 1576 896.1C1574.6 897.9 1575.1 898.7 1573 899.1C1570.9 899.4 1565.9 897.4 1563.2 898.1C1560.4 898.7 1560.4 899.7 1556.3 903C1552.2 906.3 1541.5 915.3 1538.5 917.8" stroke-width="3.2"/>
<path d="M1467.6 803.5C1469.9 802.8 1476.9 799.9 1481.4 799.6C1485.8 799.2 1489.6 799.9 1494.2 801.5C1498.8 803.2 1504 806.1 1509 809.4C1513.9 812.7 1518.8 816 1523.7 821.2C1528.7 826.5 1534.1 833.7 1538.5 840.9C1543 848.2 1547.4 856.7 1550.3 864.6C1553.3 872.5 1555.1 881.8 1556.3 888.2C1557.4 894.6 1557.7 898.9 1557.2 903C1556.7 907.1 1555.4 910.6 1553.3 912.9C1551.2 915.2 1545.9 916.1 1544.4 916.8" stroke-width="3"/>
<path d="M1482.4 805.5C1485.2 806.5 1493.7 808.3 1499.1 811.4C1504.5 814.5 1510 818.8 1514.9 824.2C1519.8 829.6 1524.6 837.3 1528.7 843.9C1532.8 850.5 1536.9 857 1539.5 863.6C1542.1 870.2 1543.4 876.7 1544.4 883.3C1545.4 889.9 1546.1 897.8 1545.4 903C1544.8 908.3 1541.3 912.9 1540.5 914.8" stroke-width="2"/>
<path d="M1489.3 795.6C1492.5 796.6 1502.7 798.4 1509 801.5C1515.2 804.6 1521.1 808.9 1526.7 814.3C1532.3 819.8 1538 827 1542.5 834C1546.9 841.1 1550.5 849.3 1553.3 856.7C1556.1 864.1 1558.1 871.5 1559.2 878.4C1560.4 885.3 1560 894.8 1560.2 898.1" stroke-width="2"/>
<path d="M1503.1 793.6C1505.7 795 1513.7 798.1 1518.8 801.5C1523.9 805 1528.7 808.9 1533.6 814.3C1538.5 819.8 1544.6 828 1548.4 834C1552.2 840.1 1554.9 848 1556.3 850.8" stroke-width="5"/>
<path d="M1467.6 807.4C1471.2 808.4 1482.4 810.4 1489.3 813.3C1496.2 816.3 1502.7 819.3 1509 825.2C1515.2 831.1 1521.8 840.8 1526.7 848.8C1531.6 856.9 1535.9 865.2 1538.5 873.4C1541.1 881.7 1542.5 891.5 1542.5 898.1C1542.5 904.6 1540 909.6 1538.5 912.9C1537 916.1 1534.4 917 1533.6 917.8" stroke-width="3"/>
<path d="M1504 788.7 L1518.8 782.8" stroke-width="3"/>
<path d="M1515.9 789.7 L1528.7 784.8 L1541.5 793.6 L1531.6 798.6 L1515.9 789.7" stroke-width="3"/>
<path d="M1540.5 809.4 L1554.3 802.5" stroke-width="5"/>
<path d="M1555.3 816.3 L1565.1 810.4" stroke-width="3"/>
<path d="M1552.3 830.1 L1570 823.2" stroke-width="5"/>
<path d="M1568.1 839 L1582.9 834" stroke-width="3"/>
<path d="M1562.2 854.7 L1579.9 844.9" stroke-width="5"/>
<path d="M1574 860.6 L1584.8 855.7" stroke-width="3"/>
<path d="M1566.1 876.4 L1585.8 866.6" stroke-width="5"/>
<path d="M1563.2 896.1 L1577.9 888.2" stroke-width="3"/>
<path d="M927.2 1116.1C928.5 1114.5 931.3 1109.1 934.7 1106.7C938.1 1104.4 943.3 1102.9 947.7 1102.1C952 1101.3 955.6 1101 960.7 1102.1C965.8 1103.2 972.7 1105.4 978.4 1108.6C984.1 1111.9 989.9 1116.1 995.1 1121.6C1000.4 1127.2 1005.5 1135 1010 1142.1C1014.5 1149.2 1019 1156.8 1022.1 1164.4C1025.2 1172 1027.7 1179.9 1028.6 1187.7C1029.6 1195.5 1028.8 1204.8 1027.7 1211C1026.6 1217.2 1024.9 1221.2 1022.1 1224.9C1019.3 1228.6 1015 1231.6 1011 1233.3C1006.9 1235 1000.1 1234.8 997.9 1235.2" stroke-width="3.2"/>
<path d="M933.7 1115.1C935.7 1114.2 941 1110.4 945.8 1109.5C950.6 1108.7 957.2 1108.6 962.6 1110C968 1111.4 973 1114 978.4 1117.9C983.8 1121.9 990.2 1127.5 995.1 1133.7C1000.1 1139.9 1004.5 1148 1008.2 1155.1C1011.9 1162.3 1015.3 1169.6 1017.5 1176.5C1019.6 1183.5 1020.9 1190.5 1021.2 1197C1021.5 1203.5 1020.7 1210.8 1019.3 1215.6C1017.9 1220.4 1016.1 1223.5 1012.8 1225.9C1009.6 1228.2 1002 1229 999.8 1229.6" stroke-width="1.8"/>
<path d="M895.6 1160.7C895.3 1153 897.1 1142.4 899.3 1136.5C901.5 1130.6 904.6 1128.4 908.6 1125.4C912.6 1122.3 918.8 1119.5 923.5 1118.4C928.2 1117.3 931.3 1117.4 936.5 1118.8C941.8 1120.3 948.9 1123.3 955.1 1127.2C961.3 1131.1 968.3 1136.5 973.7 1142.1C979.2 1147.7 983.8 1153.9 987.7 1160.7C991.6 1167.5 994.5 1175.5 997 1183C999.5 1190.6 1001.8 1199.3 1002.6 1206.3C1003.4 1213.3 1002.7 1220 1001.7 1224.9C1000.6 1229.9 999.2 1232.8 996.1 1236.1C993 1239.3 987.9 1242.6 983 1244.5C978.2 1246.3 973.1 1247.9 967.2 1247.3C961.3 1246.6 954 1244 947.7 1240.7C941.3 1237.5 934.8 1233.5 929.1 1227.7C923.3 1222 917.9 1213.8 913.3 1206.3C908.6 1198.9 904.1 1190.6 901.2 1183C898.2 1175.5 895.9 1168.5 895.6 1160.7Z" stroke-width="3.2"/>
<path d="M900.2 1160.7C899.9 1153.9 901.2 1147.2 903 1142.1C904.9 1137 907.8 1133.3 911.4 1130C915 1126.8 920.2 1123.8 924.4 1122.6C928.6 1121.3 931.6 1121.2 936.5 1122.6C941.5 1124 948.3 1127.1 954.2 1130.9C960.1 1134.8 966.8 1140.2 971.9 1145.8C977 1151.4 981.3 1157.9 984.9 1164.4C988.5 1171 991.1 1177.9 993.3 1184.9C995.5 1191.9 997.3 1200 997.9 1206.3C998.6 1212.7 998.1 1218.4 997 1223.1C995.9 1227.7 994.1 1231.3 991.4 1234.2C988.8 1237.2 985.2 1239.3 981.2 1240.7C977.2 1242.1 972.5 1243.2 967.2 1242.6C962 1242 955.4 1240.1 949.6 1237C943.7 1233.9 937.3 1229.3 931.9 1224C926.4 1218.7 921.5 1212.2 917 1205.4C912.5 1198.6 907.7 1190.5 904.9 1183C902.1 1175.6 900.5 1167.5 900.2 1160.7Z" stroke-width="1.6"/>
<path d="M904 1150.5C905 1144.9 907.8 1137.2 911.4 1133.7C915 1130.2 920.4 1129.5 925.4 1129.5C930.3 1129.5 935.4 1131 941.2 1133.7C946.9 1136.4 954 1140.4 959.8 1145.8C965.5 1151.3 971.3 1159.3 975.6 1166.3C979.9 1173.3 983.7 1180.3 985.8 1187.7C988 1195.1 988.8 1204 988.6 1211C988.5 1217.9 987.4 1225.1 984.9 1229.6C982.4 1234.1 978.1 1236.6 973.7 1237.9C969.4 1239.3 964.1 1239.2 958.9 1237.9C953.6 1236.7 947.7 1234.7 942.1 1230.5C936.5 1226.3 930.6 1220 925.4 1212.8C920.1 1205.7 913.9 1195.3 910.5 1187.7C907.1 1180.1 906 1173.4 904.9 1167.2C903.8 1161 902.9 1156.1 904 1150.5Z" stroke-width="3"/>
<path d="M927.2 1133.7C927.1 1136.5 925.8 1144.6 926.3 1150.5C926.8 1156.4 927.8 1162.7 930 1169.1C932.2 1175.5 935.4 1182.3 939.3 1188.6C943.2 1195 948.3 1202 953.3 1207.2C958.2 1212.5 964 1216.9 969.1 1220.3C974.2 1223.7 981.5 1226.5 984 1227.7" stroke-width="3"/>
<path d="M908.6 1178.4 L929.1 1170" stroke-width="5"/>
<path d="M1029.4 1059.2C1031.1 1057.9 1035.8 1053.6 1039.7 1051.7C1043.5 1049.9 1048 1048.2 1052.7 1048C1057.3 1047.9 1062 1048.8 1067.6 1050.8C1073.1 1052.8 1080.3 1055.8 1086.2 1060.1C1092.1 1064.5 1097.9 1070.5 1102.9 1076.9C1107.9 1083.2 1112.2 1090.5 1115.9 1098.3C1119.7 1106 1123.4 1115.3 1125.2 1123.4C1127.1 1131.4 1127.6 1139.3 1127.1 1146.6C1126.6 1153.9 1125.2 1162 1122.4 1167.1C1119.7 1172.2 1114.2 1174.8 1110.3 1177.3C1106.5 1179.8 1101 1181.2 1099.2 1182" stroke-width="3.2"/>
<path d="M1003.4 1104.8C1002.9 1097.8 1004 1087.9 1006.2 1081.5C1008.3 1075.2 1012.4 1070 1016.4 1066.6C1020.4 1063.3 1025.2 1062.1 1030.3 1061.5C1035.5 1060.9 1041.2 1061.1 1047.1 1062.9C1053 1064.7 1059.7 1067.9 1065.7 1072.2C1071.7 1076.6 1078.1 1082.4 1083.4 1089C1088.6 1095.5 1093.8 1103.5 1097.3 1111.3C1100.9 1119 1103.4 1127.2 1104.8 1135.5C1106.2 1143.7 1106.5 1153.8 1105.7 1160.6C1104.9 1167.4 1102.8 1172.2 1100.1 1176.4C1097.5 1180.6 1093.8 1183.8 1089.9 1185.7C1086 1187.6 1081.5 1188.3 1076.9 1187.6C1072.2 1186.8 1067.9 1184.5 1062 1181C1056.1 1177.6 1048 1172.8 1041.5 1167.1C1035 1161.4 1028.3 1153.9 1022.9 1146.6C1017.5 1139.3 1012.2 1130.3 1009 1123.4C1005.7 1116.4 1003.8 1111.7 1003.4 1104.8Z" stroke-width="3.2"/>
<path d="M1008 1104.8C1008 1099.5 1009 1092.2 1010.8 1087.1C1012.7 1082 1015.6 1077.5 1019.2 1074.1C1022.8 1070.7 1027.6 1067.9 1032.2 1066.6C1036.9 1065.4 1041.5 1065.1 1047.1 1066.6C1052.7 1068.2 1059.8 1071.6 1065.7 1075.9C1071.6 1080.3 1077.5 1086.3 1082.4 1092.7C1087.4 1099 1092.1 1106.6 1095.5 1114.1C1098.9 1121.5 1101.7 1129.6 1102.9 1137.3C1104.1 1145.1 1103.8 1154.1 1102.9 1160.6C1102 1167.1 1100 1172.5 1097.3 1176.4C1094.7 1180.3 1091.1 1182.8 1087.1 1183.8C1083.1 1184.9 1077.6 1184.5 1073.1 1182.9C1068.6 1181.4 1065.7 1178.4 1060.1 1174.5C1054.5 1170.7 1046 1165.5 1039.7 1159.7C1033.3 1153.8 1026.8 1146 1022 1139.2C1017.2 1132.4 1013.1 1124.5 1010.8 1118.7C1008.5 1113 1008 1110 1008 1104.8Z" stroke-width="1.6"/>
<path d="M1009.9 1092.7C1010 1085.7 1011.1 1081.2 1014.5 1076.9C1017.9 1072.5 1024.9 1067.9 1030.3 1066.6C1035.8 1065.4 1041 1067.4 1047.1 1069.4C1053.1 1071.4 1060.4 1073.8 1066.6 1078.7C1072.8 1083.7 1079.5 1091.9 1084.3 1099.2C1089.1 1106.5 1092.7 1114.5 1095.5 1122.4C1098.3 1130.3 1100.4 1139.2 1101 1146.6C1101.7 1154.1 1100.7 1161.5 1099.2 1167.1C1097.6 1172.7 1095.5 1177.6 1091.7 1180.1C1088 1182.6 1083.4 1183.4 1076.9 1182C1070.3 1180.6 1059.5 1176.2 1052.7 1171.7C1045.9 1167.2 1041 1160.7 1035.9 1155C1030.8 1149.3 1025.7 1143.4 1022 1137.3C1018.3 1131.3 1015.6 1126.2 1013.6 1118.7C1011.6 1111.3 1009.7 1099.7 1009.9 1092.7Z" stroke-width="3"/>
<path d="M1030.3 1069.4C1030.2 1073 1028.6 1082.6 1029.4 1090.8C1030.2 1099 1032.1 1110.2 1035 1118.7C1037.9 1127.2 1042.4 1135 1047.1 1142C1051.7 1149 1057.6 1155.9 1062.9 1160.6C1068.2 1165.2 1073.9 1167.7 1078.7 1169.9C1083.5 1172.1 1089.6 1173 1091.7 1173.6" stroke-width="3.2"/>
<path d="M1035.9 1155 L1038.7 1157.8 L1049 1151.3 L1061 1162.4 L1062 1166.2 L1049 1169 L1049.9 1173.6" stroke-width="3.2"/>
<path d="M1013.6 1077.8 L1026.6 1072.2 L1024.8 1079.7 L1012.7 1086.2" stroke-width="3"/>
<path d="M1062.9 1188.5C1063.8 1189.9 1065.1 1195.2 1068.5 1196.9C1071.9 1198.6 1077.8 1198.4 1083.4 1198.7C1089 1199 1097.6 1200 1102 1198.7C1106.3 1197.5 1108.2 1194.4 1109.4 1191.3C1110.7 1188.2 1109.4 1182 1109.4 1180.1" stroke-width="3"/>
<path d="M1095.5 1192.2C1095.8 1190 1098.4 1185.7 1100.1 1184.8C1101.8 1183.8 1105.1 1184.8 1105.7 1186.6C1106.3 1188.5 1105.1 1194.1 1103.8 1195.9C1102.6 1197.8 1099.7 1198.4 1098.3 1197.8C1096.9 1197.2 1095.2 1194.4 1095.5 1192.2Z" stroke-width="3"/>
<path d="M1069.4 1192.2 L1076.9 1197.8" stroke-width="2.5"/>
<path d="M1083.4 1192.2 L1091.7 1198.7" stroke-width="2.5"/>
<path d="M598.6 1338.5C598.8 1332.1 599.9 1322.5 601.9 1316.6C603.9 1310.8 607 1307 610.7 1303.5C614.3 1300 619.4 1297.3 623.8 1295.8C628.2 1294.4 631.5 1293.8 636.9 1294.7C642.4 1295.6 650.2 1297.7 656.6 1301.3C663 1305 669.8 1310.4 675.2 1316.6C680.7 1322.8 685.8 1330.3 689.5 1338.5C693.1 1346.7 695.7 1356.8 697.1 1365.9C698.6 1375 698.8 1385.8 698.2 1393.3C697.7 1400.7 696 1406.2 693.8 1410.8C691.7 1415.3 689.5 1418.1 685.1 1420.6C680.7 1423.2 673.8 1426.3 667.6 1426.1C661.4 1425.9 654.6 1424.1 647.9 1419.5C641.1 1415 633.5 1406.8 627.1 1398.7C620.7 1390.7 613.9 1378.7 609.6 1371.4C605.2 1364.1 602.6 1360.4 600.8 1354.9C599 1349.5 598.4 1344.9 598.6 1338.5Z" stroke-width="3.2"/>
<path d="M603 1338.5C603.4 1332.9 604.4 1324.1 606.3 1318.8C608.1 1313.5 611 1309.9 613.9 1306.8C616.9 1303.7 620 1301.5 623.8 1300.2C627.6 1298.9 631.6 1298.2 636.9 1299.1C642.2 1300 649.5 1302.2 655.5 1305.7C661.6 1309.1 667.9 1314.1 673 1319.9C678.2 1325.8 682.7 1333 686.2 1340.7C689.7 1348.4 692.4 1357.3 693.8 1365.9C695.3 1374.5 695.5 1385 694.9 1392.2C694.4 1399.3 692.6 1404.4 690.6 1408.6C688.6 1412.8 686.7 1415.2 682.9 1417.3C679.1 1419.5 673.2 1422.1 667.6 1421.7C661.9 1421.4 655.4 1419.5 649 1415.2C642.6 1410.8 635.3 1403.1 629.3 1395.4C623.2 1387.8 617 1376.3 612.8 1369.2C608.6 1362.1 605.7 1357.9 604.1 1352.8C602.4 1347.6 602.6 1344.2 603 1338.5Z" stroke-width="1.6"/>
<path d="M620.5 1301.3C620 1305.7 617.6 1318.6 617.8 1327.6C617.9 1336.5 619.3 1346.7 621.6 1354.9C623.9 1363.2 627.4 1370.1 631.5 1376.8C635.5 1383.6 640.4 1390.3 645.7 1395.4C651 1400.6 656.3 1404.6 663.2 1407.5C670.1 1410.4 683.3 1412 687.3 1413" stroke-width="3.5"/>
<path d="M628.2 1305.7C628 1309.3 626.5 1319.9 627.1 1327.6C627.6 1335.2 629.1 1344.4 631.5 1351.7C633.8 1359 637.3 1365.2 641.3 1371.4C645.3 1377.6 650.2 1384.1 655.5 1388.9C660.8 1393.6 666.8 1397.3 673 1399.8C679.3 1402.4 689.5 1403.5 692.8 1404.2" stroke-width="1.6"/>
<path d="M633.6 1301.3C633.5 1305.3 632 1317.4 632.5 1325.4C633.1 1333.4 634.6 1342.2 636.9 1349.5C639.3 1356.8 642.8 1363.2 646.8 1369.2C650.8 1375.2 655.7 1381.2 661 1385.6C666.3 1390 673 1393.3 678.5 1395.4C684 1397.6 691.3 1398.2 693.8 1398.7" stroke-width="3.5"/>
<path d="M643.5 1307.9C643.5 1311.2 642.6 1320.6 643.5 1327.6C644.4 1334.5 646.4 1342.9 649 1349.5C651.5 1356 654.8 1361.7 658.8 1367C662.8 1372.3 667.9 1377.4 673 1381.2C678.2 1385 686 1388.3 689.5 1390C692.9 1391.6 693.1 1390.9 693.8 1391.1" stroke-width="1.6"/>
<path d="M650.1 1311.2C650.2 1314.3 650.1 1323.7 651.2 1329.8C652.2 1335.8 653.9 1341.4 656.6 1347.3C659.4 1353.1 663.6 1359.9 667.6 1364.8C671.6 1369.7 676.3 1373.6 680.7 1376.8C685.1 1380.1 691.7 1383.2 693.8 1384.5" stroke-width="3.5"/>
<path d="M661 1321C661.4 1323.6 661.6 1331.2 663.2 1336.3C664.8 1341.4 667.9 1346.7 670.9 1351.7C673.8 1356.6 676.9 1361.7 680.7 1365.9C684.5 1370.1 691.7 1375 693.8 1376.8" stroke-width="1.6"/>
<path d="M669.8 1329.8C670.7 1331.2 673 1335.2 675.2 1338.5C677.4 1341.8 680.5 1346.2 682.9 1349.5C685.3 1352.8 688.4 1356.8 689.5 1358.2" stroke-width="5"/>
<path d="M623.8 1298C626.7 1298.6 635.1 1298.7 641.3 1301.3C647.5 1303.9 654.8 1308.1 661 1313.3C667.2 1318.6 673.8 1326.5 678.5 1333C683.3 1339.6 686.5 1345.5 689.5 1352.8C692.4 1360.1 694.6 1369.2 696 1376.8C697.5 1384.5 698.2 1392.7 698.2 1398.7C698.2 1404.8 696.4 1410.6 696 1413" stroke-width="3"/>
<path d="M691.7 1351.7 L704.8 1344 L700.4 1336.3" stroke-width="2.2"/>
<path d="M694.9 1359.3 L710.3 1352.8 L726.7 1349.5" stroke-width="2.2"/>
<path d="M711.4 1336.3 L719 1332.5" stroke-width="2.2"/>
<path d="M710.3 1353.8 L713.6 1371.4 L714.6 1404.2" stroke-width="1.6"/>
<path d="M721.2 1349.5 L722.3 1371.4" stroke-width="1.6"/>
<path d="M632.5 1288.1 L636.8 1285.7 L641.5 1284 L646.5 1282.9 L651.8 1282.7 L657.3 1283.1 L662.9 1284.3 L668.7 1286.2 L674.4 1288.7 L680.1 1292 L685.7 1295.9 L691.1 1300.3 L696.3 1305.3 L701.2 1310.8 L705.8 1316.7 L710 1322.9 L713.7 1329.5 L716.9 1336.2 L719.6 1343.1 L721.8 1350 L723.4 1356.9 L724.4 1363.7 L724.7 1370.3 L724.5 1376.7 L723.7 1382.8 L722.3 1388.5 L720.3 1393.7 L717.7 1398.4 L714.6 1402.6 L711 1406.1 L707 1409" stroke-width="3.6"/>
<path d="M642.9 1281.4 L647.7 1279.7 L652.9 1278.6 L658.3 1278.3 L663.9 1278.8 L669.6 1280 L675.5 1282 L681.3 1284.7 L687.1 1288.1 L692.8 1292.1 L698.3 1296.7 L703.6 1301.8 L708.5 1307.5 L713.1 1313.5 L717.3 1320 L721 1326.7 L724.2 1333.6 L726.9 1340.6 L729 1347.6 L730.4 1354.7 L731.3 1361.6 L731.6 1368.3 L731.2 1374.7 L730.2 1380.8 L728.5 1386.5 L726.3 1391.6 L723.5 1396.3 L720.2 1400.3 L716.4 1403.7" stroke-width="2.0"/>
<path d="M645.5 1279.9 L649.8 1277.4 L654.5 1275.7 L659.6 1274.7 L664.9 1274.4 L670.4 1274.8 L676.1 1276 L681.9 1277.9 L687.6 1280.5 L693.4 1283.8 L699 1287.6 L704.5 1292.1 L709.7 1297.2 L714.6 1302.7 L719.2 1308.6 L723.4 1314.9 L727.1 1321.4 L730.4 1328.2 L733.1 1335.1 L735.3 1342.1 L736.8 1349 L737.8 1355.9 L738.2 1362.5 L738 1368.9 L737.2 1375 L735.8 1380.7 L733.7 1386 L731.2 1390.7 L728.1 1394.9 L724.5 1398.5 L720.4 1401.4" stroke-width="3.6"/>
<path d="M656 1273.2 L660.8 1271.4 L665.9 1270.3 L671.4 1270.1 L677 1270.5 L682.8 1271.8 L688.7 1273.7 L694.6 1276.4 L700.4 1279.8 L706.1 1283.9 L711.6 1288.5 L716.9 1293.7 L721.9 1299.3 L726.5 1305.4 L730.7 1311.9 L734.5 1318.6 L737.7 1325.6 L740.3 1332.6 L742.4 1339.7 L743.9 1346.8 L744.8 1353.7 L745.1 1360.5 L744.7 1366.9 L743.7 1373.1 L742 1378.8 L739.8 1384 L737 1388.6 L733.7 1392.7 L729.8 1396.1" stroke-width="2.0"/>
<path d="M658.5 1271.6 L662.8 1269.2 L667.6 1267.4 L672.7 1266.4 L678 1266.1 L683.6 1266.5 L689.3 1267.7 L695.1 1269.6 L700.9 1272.2 L706.6 1275.5 L712.3 1279.4 L717.8 1283.9 L723 1289 L728 1294.5 L732.6 1300.5 L736.8 1306.8 L740.5 1313.4 L743.8 1320.2 L746.5 1327.1 L748.7 1334.1 L750.3 1341.1 L751.3 1348 L751.7 1354.7 L751.5 1361.2 L750.7 1367.3 L749.2 1373 L747.2 1378.3 L744.6 1383.1 L741.5 1387.3 L737.9 1390.9 L733.8 1393.8" stroke-width="3.6"/>
<path d="M669 1264.9 L673.8 1263.1 L679 1262 L684.5 1261.8 L690.1 1262.2 L695.9 1263.5 L701.9 1265.5 L707.8 1268.2 L713.6 1271.6 L719.4 1275.6 L725 1280.3 L730.3 1285.5 L735.3 1291.2 L739.9 1297.3 L744.1 1303.8 L747.9 1310.6 L751.1 1317.6 L753.8 1324.7 L755.9 1331.8 L757.4 1338.9 L758.3 1345.9 L758.5 1352.7 L758.2 1359.2 L757.1 1365.3 L755.5 1371.1 L753.3 1376.3 L750.5 1381 L747.1 1385.1 L743.2 1388.5" stroke-width="2.0"/>
<path d="M671.5 1263.4 L675.9 1260.9 L680.6 1259.1 L685.7 1258.1 L691.1 1257.8 L696.7 1258.3 L702.4 1259.4 L708.3 1261.4 L714.1 1264 L719.9 1267.3 L725.6 1271.2 L731.1 1275.8 L736.4 1280.8 L741.3 1286.4 L746 1292.4 L750.2 1298.7 L754 1305.4 L757.3 1312.2 L760 1319.2 L762.2 1326.2 L763.8 1333.2 L764.8 1340.2 L765.2 1346.9 L765 1353.4 L764.2 1359.6 L762.7 1365.3 L760.7 1370.6 L758.1 1375.4 L754.9 1379.6 L751.3 1383.2 L747.2 1386.2" stroke-width="3.6"/>
<path d="M682 1256.6 L686.9 1254.8 L692.1 1253.8 L697.6 1253.5 L703.3 1254 L709.1 1255.2 L715 1257.2 L721 1259.9 L726.9 1263.4 L732.7 1267.4 L738.3 1272.1 L743.6 1277.3 L748.7 1283.1 L753.3 1289.2 L757.6 1295.8 L761.3 1302.6 L764.6 1309.6 L767.3 1316.7 L769.4 1323.9 L770.9 1331 L771.8 1338.1 L772 1344.9 L771.6 1351.4 L770.6 1357.6 L769 1363.3 L766.7 1368.6 L763.9 1373.3 L760.5 1377.4 L756.7 1380.9" stroke-width="2.0"/>
<path d="M684.5 1255.1 L688.9 1252.6 L693.7 1250.9 L698.8 1249.8 L704.2 1249.5 L709.8 1250 L715.6 1251.2 L721.4 1253.1 L727.3 1255.7 L733.1 1259 L738.9 1263 L744.4 1267.6 L749.7 1272.7 L754.7 1278.3 L759.4 1284.3 L763.6 1290.7 L767.4 1297.3 L770.7 1304.2 L773.5 1311.2 L775.7 1318.3 L777.3 1325.4 L778.3 1332.3 L778.7 1339.1 L778.5 1345.6 L777.7 1351.8 L776.2 1357.6 L774.2 1362.9 L771.5 1367.8 L768.4 1372 L764.7 1375.6 L760.6 1378.6" stroke-width="3.6"/>
<path d="M695 1248.3 L699.9 1246.5 L705.1 1245.5 L710.7 1245.2 L716.4 1245.7 L722.3 1246.9 L728.2 1248.9 L734.2 1251.7 L740.2 1255.1 L746 1259.2 L751.6 1263.9 L757 1269.2 L762 1275 L766.7 1281.2 L771 1287.7 L774.8 1294.5 L778 1301.6 L780.8 1308.8 L782.9 1316 L784.4 1323.2 L785.3 1330.2 L785.5 1337.1 L785.1 1343.6 L784.1 1349.9 L782.5 1355.6 L780.2 1360.9 L777.4 1365.7 L774 1369.8 L770.1 1373.3" stroke-width="2.0"/>
<path d="M697.5 1246.9 L701.9 1244.4 L706.7 1242.6 L711.9 1241.5 L717.3 1241.2 L723 1241.7 L728.7 1242.9 L734.6 1244.8 L740.5 1247.5 L746.4 1250.8 L752.1 1254.8 L757.7 1259.4 L763 1264.5 L768.1 1270.1 L772.8 1276.2 L777 1282.6 L780.8 1289.3 L784.2 1296.2 L786.9 1303.3 L789.2 1310.4 L790.8 1317.5 L791.8 1324.5 L792.2 1331.3 L792 1337.8 L791.1 1344.1 L789.7 1349.9 L787.6 1355.3 L785 1360.1 L781.8 1364.4 L778.1 1368 L774 1371" stroke-width="3.6"/>
<path d="M708 1240.1 L713 1238.3 L718.2 1237.2 L723.8 1236.9 L729.5 1237.4 L735.4 1238.7 L741.4 1240.7 L747.4 1243.4 L753.4 1246.9 L759.3 1251 L764.9 1255.7 L770.3 1261 L775.4 1266.8 L780.1 1273.1 L784.4 1279.6 L788.2 1286.5 L791.5 1293.6 L794.2 1300.8 L796.4 1308.1 L797.9 1315.3 L798.8 1322.4 L799 1329.3 L798.6 1335.9 L797.6 1342.1 L795.9 1347.9 L793.7 1353.3 L790.8 1358 L787.4 1362.2 L783.5 1365.6" stroke-width="2.0"/>
<path d="M710.5 1238.6 L714.9 1236.1 L719.8 1234.3 L724.9 1233.2 L730.4 1232.9 L736.1 1233.4 L741.9 1234.6 L747.8 1236.6 L753.8 1239.2 L759.6 1242.6 L765.4 1246.6 L771 1251.2 L776.4 1256.3 L781.4 1262 L786.1 1268.1 L790.4 1274.5 L794.3 1281.3 L797.6 1288.2 L800.4 1295.3 L802.6 1302.5 L804.3 1309.6 L805.3 1316.6 L805.7 1323.5 L805.5 1330.1 L804.6 1336.3 L803.2 1342.2 L801.1 1347.6 L798.5 1352.4 L795.3 1356.7 L791.6 1360.4 L787.4 1363.4" stroke-width="3.6"/>
<path d="M721.1 1231.8 L726 1230 L731.3 1228.9 L736.9 1228.6 L742.6 1229.1 L748.6 1230.4 L754.6 1232.4 L760.7 1235.2 L766.7 1238.6 L772.5 1242.8 L778.2 1247.5 L783.7 1252.9 L788.8 1258.7 L793.5 1265 L797.8 1271.6 L801.6 1278.5 L804.9 1285.6 L807.7 1292.9 L809.8 1300.2 L811.4 1307.4 L812.3 1314.5 L812.5 1321.5 L812.1 1328.1 L811.1 1334.4 L809.4 1340.2 L807.1 1345.6 L804.3 1350.4 L800.8 1354.5 L796.9 1358" stroke-width="2.0"/>
<path d="M723.4 1230.3 L727.9 1227.8 L732.8 1226 L738 1225 L743.5 1224.7 L749.2 1225.1 L755.1 1226.3 L761 1228.3 L767 1231 L772.9 1234.3 L778.7 1238.4 L784.3 1243 L789.7 1248.2 L794.8 1253.9 L799.5 1260 L803.9 1266.5 L807.7 1273.2 L811.1 1280.2 L813.9 1287.4 L816.1 1294.5 L817.8 1301.7 L818.8 1308.8 L819.2 1315.7 L819 1322.3 L818.1 1328.6 L816.6 1334.5 L814.6 1339.9 L811.9 1344.8 L808.7 1349.1 L805 1352.8 L800.8 1355.8" stroke-width="3.6"/>
<path d="M734.1 1223.5 L739 1221.7 L744.4 1220.6 L750 1220.3 L755.8 1220.8 L761.8 1222.1 L767.8 1224.1 L773.9 1226.9 L779.9 1230.4 L785.8 1234.6 L791.5 1239.4 L797 1244.7 L802.1 1250.6 L806.9 1256.9 L811.2 1263.5 L815.1 1270.5 L818.4 1277.6 L821.2 1284.9 L823.3 1292.2 L824.9 1299.5 L825.8 1306.7 L826 1313.7 L825.6 1320.3 L824.6 1326.7 L822.9 1332.5 L820.6 1337.9 L817.7 1342.7 L814.3 1346.9 L810.3 1350.4" stroke-width="2.0"/>
<path d="M736.4 1222.1 L740.9 1219.5 L745.8 1217.7 L751.1 1216.7 L756.6 1216.4 L762.3 1216.8 L768.2 1218.1 L774.2 1220 L780.2 1222.7 L786.2 1226.1 L792 1230.1 L797.6 1234.8 L803.1 1240 L808.2 1245.7 L812.9 1251.9 L817.3 1258.4 L821.1 1265.2 L824.5 1272.2 L827.3 1279.4 L829.6 1286.6 L831.3 1293.8 L832.3 1300.9 L832.7 1307.8 L832.5 1314.5 L831.6 1320.8 L830.1 1326.8 L828 1332.2 L825.4 1337.1 L822.1 1341.5 L818.4 1345.2 L814.2 1348.2" stroke-width="3.6"/>
<path d="M747.1 1215.3 L752.1 1213.4 L757.4 1212.3 L763.1 1212 L768.9 1212.5 L774.9 1213.8 L781 1215.9 L787.1 1218.7 L793.2 1222.2 L799.1 1226.4 L804.9 1231.2 L810.3 1236.5 L815.5 1242.4 L820.3 1248.8 L824.7 1255.5 L828.5 1262.4 L831.9 1269.6 L834.6 1277 L836.8 1284.3 L838.4 1291.7 L839.3 1298.9 L839.5 1305.9 L839.1 1312.6 L838.1 1318.9 L836.4 1324.8 L834.1 1330.2 L831.2 1335.1 L827.7 1339.3 L823.7 1342.8" stroke-width="2.0"/>
<path d="M749.4 1213.8 L754 1211.3 L758.9 1209.5 L764.2 1208.4 L769.7 1208.1 L775.5 1208.5 L781.4 1209.8 L787.4 1211.8 L793.4 1214.5 L799.4 1217.9 L805.3 1221.9 L811 1226.6 L816.4 1231.8 L821.5 1237.6 L826.3 1243.8 L830.7 1250.3 L834.6 1257.2 L838 1264.2 L840.8 1271.4 L843.1 1278.7 L844.7 1285.9 L845.8 1293.1 L846.2 1300 L846 1306.7 L845.1 1313.1 L843.6 1319 L841.5 1324.5 L838.8 1329.5 L835.6 1333.8 L831.8 1337.5 L827.6 1340.6" stroke-width="3.6"/>
<path d="M760.1 1207 L765.1 1205.1 L770.5 1204.1 L776.2 1203.8 L782 1204.3 L788.1 1205.5 L794.2 1207.6 L800.3 1210.4 L806.4 1213.9 L812.4 1218.2 L818.2 1223 L823.7 1228.4 L828.9 1234.3 L833.7 1240.7 L838.1 1247.4 L842 1254.4 L845.3 1261.7 L848.1 1269 L850.3 1276.4 L851.8 1283.8 L852.8 1291 L853 1298.1 L852.6 1304.8 L851.5 1311.2 L849.8 1317.1 L847.5 1322.5 L844.6 1327.4 L841.1 1331.6 L837.1 1335.2" stroke-width="2.0"/>
<path d="M762.4 1205.6 L767 1203 L771.9 1201.2 L777.2 1200.1 L782.8 1199.8 L788.6 1200.3 L794.5 1201.5 L800.6 1203.5 L806.6 1206.2 L812.7 1209.6 L818.6 1213.7 L824.3 1218.4 L829.7 1223.7 L834.9 1229.5 L839.7 1235.7 L844.1 1242.3 L848 1249.1 L851.4 1256.2 L854.3 1263.5 L856.6 1270.8 L858.2 1278.1 L859.3 1285.2 L859.7 1292.2 L859.5 1299 L858.6 1305.3 L857.1 1311.3 L855 1316.8 L852.3 1321.8 L849 1326.2 L845.2 1329.9 L841 1333" stroke-width="3.6"/>
<path d="M773.1 1198.7 L778.2 1196.9 L783.6 1195.8 L789.3 1195.5 L795.2 1196 L801.2 1197.3 L807.4 1199.3 L813.6 1202.2 L819.7 1205.7 L825.7 1209.9 L831.5 1214.8 L837 1220.2 L842.3 1226.2 L847.1 1232.6 L851.5 1239.3 L855.4 1246.4 L858.8 1253.7 L861.6 1261.1 L863.8 1268.5 L865.3 1275.9 L866.2 1283.2 L866.5 1290.3 L866.1 1297 L865 1303.4 L863.3 1309.4 L861 1314.9 L858.1 1319.8 L854.6 1324 L850.5 1327.6" stroke-width="2.0"/>
<path d="M775.4 1197.3 L780 1194.7 L785 1192.9 L790.3 1191.8 L795.9 1191.5 L801.7 1192 L807.7 1193.2 L813.8 1195.2 L819.9 1198 L825.9 1201.4 L831.8 1205.5 L837.6 1210.2 L843.1 1215.5 L848.3 1221.3 L853.1 1227.6 L857.5 1234.2 L861.4 1241.1 L864.9 1248.2 L867.7 1255.5 L870 1262.9 L871.7 1270.2 L872.8 1277.4 L873.2 1284.4 L873 1291.2 L872.1 1297.6 L870.6 1303.6 L868.4 1309.2 L865.7 1314.1 L862.5 1318.5 L858.7 1322.3 L854.4 1325.4" stroke-width="3.6"/>
<path d="M786.1 1190.5 L791.2 1188.6 L796.6 1187.5 L802.4 1187.2 L808.3 1187.7 L814.4 1189 L820.6 1191.1 L826.8 1193.9 L832.9 1197.5 L839 1201.7 L844.8 1206.6 L850.4 1212.1 L855.6 1218 L860.5 1224.5 L864.9 1231.3 L868.8 1238.4 L872.2 1245.7 L875 1253.1 L877.2 1260.6 L878.8 1268 L879.7 1275.4 L880 1282.5 L879.6 1289.3 L878.5 1295.7 L876.8 1301.7 L874.5 1307.2 L871.5 1312.1 L868 1316.4 L864 1320" stroke-width="2.0"/>
<path d="M788.4 1189.1 L793 1186.5 L798 1184.6 L803.4 1183.5 L809 1183.2 L814.9 1183.7 L820.9 1184.9 L827 1187 L833.1 1189.7 L839.2 1193.2 L845.1 1197.3 L850.9 1202 L856.4 1207.4 L861.6 1213.2 L866.5 1219.5 L870.9 1226.1 L874.9 1233.1 L878.3 1240.2 L881.2 1247.6 L883.5 1254.9 L885.2 1262.3 L886.3 1269.5 L886.7 1276.6 L886.4 1283.4 L885.6 1289.9 L884.1 1295.9 L881.9 1301.5 L879.2 1306.5 L875.9 1310.9 L872.1 1314.7 L867.8 1317.8" stroke-width="3.6"/>
<path d="M799.2 1182.2 L804.3 1180.3 L809.7 1179.2 L815.5 1178.9 L821.4 1179.4 L827.6 1180.7 L833.8 1182.8 L840 1185.7 L846.2 1189.2 L852.3 1193.5 L858.1 1198.4 L863.7 1203.9 L869 1209.9 L873.9 1216.4 L878.3 1223.2 L882.3 1230.3 L885.7 1237.7 L888.5 1245.2 L890.7 1252.7 L892.3 1260.2 L893.2 1267.5 L893.5 1274.7 L893.1 1281.5 L892 1288 L890.3 1294 L887.9 1299.5 L885 1304.5 L881.4 1308.7 L877.4 1312.4" stroke-width="2.0"/>
<path d="M801.4 1180.8 L806 1178.2 L811.1 1176.3 L816.4 1175.2 L822.1 1174.9 L828 1175.4 L834 1176.7 L840.2 1178.7 L846.3 1181.4 L852.4 1184.9 L858.4 1189.1 L864.2 1193.8 L869.8 1199.2 L875 1205.1 L879.9 1211.4 L884.3 1218 L888.3 1225 L891.8 1232.2 L894.7 1239.6 L897 1247 L898.7 1254.4 L899.8 1261.7 L900.2 1268.8 L899.9 1275.6 L899.1 1282.1 L897.5 1288.2 L895.4 1293.8 L892.6 1298.8 L889.3 1303.3 L885.5 1307.1 L881.2 1310.2" stroke-width="3.6"/>
<path d="M812.2 1173.9 L817.3 1172 L822.8 1170.9 L828.6 1170.6 L834.6 1171.1 L840.7 1172.4 L847 1174.5 L853.2 1177.4 L859.5 1181 L865.5 1185.3 L871.4 1190.2 L877.1 1195.8 L882.4 1201.8 L887.3 1208.3 L891.7 1215.1 L895.7 1222.3 L899.1 1229.7 L902 1237.2 L904.2 1244.8 L905.8 1252.3 L906.7 1259.7 L907 1266.9 L906.6 1273.7 L905.5 1280.2 L903.8 1286.3 L901.4 1291.8 L898.4 1296.8 L894.9 1301.1 L890.8 1304.8" stroke-width="2.0"/>
<path d="M621 1295L823.6 1166.2" stroke-width="2"/>
<path d="M694.1 1416.7L902.9 1298.2" stroke-width="2"/>
<path d="M820.1 1166.1C823.5 1165.2 833.5 1160.7 840.6 1160.5C847.7 1160.3 855.5 1161.3 862.9 1165.2C870.4 1169 878.5 1175.4 885.3 1183.8C892.1 1192.1 898.3 1204.6 903.9 1215.4C909.5 1226.3 915.5 1239.6 918.8 1248.9C922.1 1258.2 923.4 1263.8 923.4 1271.3C923.4 1278.7 921.4 1288.3 918.8 1293.6C916.2 1298.9 911.3 1300.9 907.6 1302.9C903.9 1304.9 898.3 1305.2 896.5 1305.7" stroke-width="3"/>
<path d="M807.1 1174.5C810.5 1174.1 820.4 1171 827.6 1172.6C834.7 1174.1 842.8 1177.6 849.9 1183.8C857.1 1190 864.2 1199.6 870.4 1209.8C876.6 1220.1 882.8 1234 887.1 1245.2C891.5 1256.4 894.9 1268.2 896.5 1276.8C898 1285.5 897.1 1292.7 896.5 1297.3C895.8 1302 893.4 1303.5 892.7 1304.8" stroke-width="3"/>
<path d="M823.9 1168.9C827.9 1169.5 840 1168.6 848.1 1172.6C856.1 1176.6 864.8 1183.8 872.3 1193.1C879.7 1202.4 887.1 1216.7 892.7 1228.4C898.3 1240.2 903.3 1254.2 905.8 1263.8C908.2 1273.4 908.2 1279.9 907.6 1286.2C907 1292.4 903 1298.6 902 1301" stroke-width="1.5"/>
<path d="M518.1 1355.1C520.5 1353.3 527.6 1346.1 532.1 1344C536.6 1341.8 539.8 1341.5 545.1 1342.1C550.4 1342.7 557.8 1344.7 563.7 1347.7C569.6 1350.6 575.3 1355 580.5 1359.8C585.6 1364.6 590.7 1370.9 594.4 1376.5C598.1 1382.1 601.4 1390.5 602.8 1393.3" stroke-width="3.2"/>
<path d="M614 1437C614.3 1439.3 616.1 1446.7 615.8 1450.9C615.5 1455.1 614.6 1458.5 612.1 1462.1C609.6 1465.7 605 1469.8 600.9 1472.3C596.9 1474.8 590.1 1476.2 587.9 1477" stroke-width="3.2"/>
<path d="M492.1 1395.1C492.4 1388.6 493.5 1378.5 495.8 1372.8C498.1 1367.1 502.2 1363.5 506 1360.7C509.9 1357.9 514.7 1356.5 519.1 1356C523.4 1355.6 526.8 1356 532.1 1357.9C537.4 1359.8 544.7 1363.2 550.7 1367.2C556.7 1371.2 563.4 1376.5 568.4 1382.1C573.3 1387.7 577.1 1393.9 580.5 1400.7C583.9 1407.5 586.8 1415.4 588.8 1423C590.9 1430.6 592.1 1439.3 592.6 1446.3C593 1453.3 592.7 1459.9 591.6 1464.9C590.5 1469.8 588.5 1473.3 586 1476C583.6 1478.8 580.9 1480.5 576.7 1481.6C572.6 1482.7 566.4 1483.6 560.9 1482.6C555.5 1481.5 550.7 1479.5 544.2 1475.1C537.7 1470.8 528.5 1464 521.9 1456.5C515.2 1449.1 508.8 1437.9 504.2 1430.5C499.5 1423 496 1417.8 494 1411.9C491.9 1406 491.8 1401.6 492.1 1395.1Z" stroke-width="3.2"/>
<path d="M523.7 1361.6C523.3 1364.1 521.2 1370.9 520.9 1376.5C520.6 1382.1 520.3 1388.1 521.9 1395.1C523.4 1402.1 526.4 1410.9 530.2 1418.4C534.1 1425.8 539.5 1433.3 545.1 1439.8C550.7 1446.3 557.2 1452.9 563.7 1457.4C570.2 1461.9 580.8 1465.2 584.2 1466.7" stroke-width="3.5"/>
<path d="M511.6 1358.8C515 1359.1 525.6 1358.7 532.1 1360.7C538.6 1362.7 544.7 1366.4 550.7 1370.9C556.7 1375.4 563.4 1381.8 568.4 1387.7C573.3 1393.6 577.4 1399.6 580.5 1406.3C583.6 1412.9 585.6 1420.2 587 1427.7C588.4 1435.1 589 1444.4 588.8 1450.9C588.7 1457.4 586.5 1464.1 586 1466.7" stroke-width="3"/>
<path d="M514.4 1376.5C514.6 1379.6 514.1 1388.1 515.3 1395.1C516.6 1402.1 518.9 1411.4 521.9 1418.4C524.8 1425.3 530.1 1432.5 533 1437C536 1441.5 538.4 1444 539.5 1445.3" stroke-width="1.8"/>
<path d="M501.4 1377.4 L503.3 1370 L510.7 1363.5 L520.9 1362.6 L518.1 1366.3 L507 1374.7 L501.4 1379.3" stroke-width="2.5"/>
<path d="M539.5 1445.3 L524.7 1453.7 L529.3 1463 L539.5 1466.7 L552.6 1460.2 L578.6 1471.4" stroke-width="3"/>
<path d="M527.4 1454.2 L537.7 1463 L550.7 1458.4 L578.6 1469.5" stroke-width="1.6"/>
<path d="M572.1 1386.7 L583.3 1384 L584.2 1385.8 L578.6 1391.4" stroke-width="3"/>
<path d="M578.6 1391.4 L589.8 1385.8 L593.5 1384.9 L600 1394.2" stroke-width="3"/>
<path d="M582.3 1393.3 L588.8 1399.8" stroke-width="4"/>
<path d="M589.8 1389.5 L595.3 1397" stroke-width="4"/>
<path d="M600 1394.2C601.7 1394 607.3 1392.8 610.2 1393.3C613.2 1393.7 616.1 1395.9 617.7 1397C619.2 1398.1 620.2 1399 619.5 1399.8C618.9 1400.5 616 1401.8 614 1401.6C611.9 1401.5 609.6 1399 607.4 1398.8C605.3 1398.7 602 1400.4 600.9 1400.7" stroke-width="3"/>
<path d="M591.6 1411.9C592.9 1410.9 596.7 1407.1 599.1 1406.3C601.4 1405.5 603.7 1406 605.6 1407.2C607.4 1408.4 609 1411.1 610.2 1413.7C611.5 1416.4 613 1419.9 613 1423C613 1426.1 610.7 1430.8 610.2 1432.3" stroke-width="3"/>
<path d="M595.3 1418.4C596.3 1417.6 599.2 1412.9 600.9 1413.7C602.6 1414.5 605.3 1420.7 605.6 1423C605.9 1425.3 603.3 1426.9 602.8 1427.7" stroke-width="3"/>
<path d="M600.9 1427.7C602.8 1428.4 609 1431.9 612.1 1432.3C615.2 1432.8 616.7 1431.6 619.5 1430.5C622.3 1429.4 627.6 1426.3 628.8 1425.8C630.1 1425.3 628.8 1426.1 627 1427.7C625.1 1429.2 621.4 1433.1 617.7 1435.1C614 1437.1 606.8 1439 604.7 1439.8" stroke-width="3"/>
<path d="M595.3 1450.9 L602.8 1446.3 L601.9 1441.6 L596.3 1437" stroke-width="2.5"/>
<path d="M552.6 1482.6C553.5 1484.4 554.7 1491.6 558.1 1493.7C561.6 1495.9 568.1 1495.4 573 1495.6C578 1495.7 583.7 1496.2 587.9 1494.7C592.1 1493.1 596.3 1489.5 598.1 1486.3C600 1483 600.2 1477 599.1 1475.1C598 1473.3 592.9 1475.1 591.6 1475.1" stroke-width="3.2"/>
<path d="M584.2 1482.6C583.9 1480.2 587.9 1477.9 589.8 1477.9C591.6 1477.9 595 1480.2 595.3 1482.6C595.7 1484.9 593.5 1491.9 591.6 1491.9C589.8 1491.9 584.5 1484.9 584.2 1482.6Z" stroke-width="3"/>
<path d="M557.2 1487.2 L563.7 1492.8" stroke-width="2.5"/>
<path d="M571.2 1488.1 L577.7 1493.7" stroke-width="2.5"/>
<ellipse cx="257.5" cy="1365" rx="64" ry="24.5" transform="rotate(-28.3 257.5 1365)" stroke-width="3.2"/>
<ellipse cx="257.5" cy="1365" rx="60" ry="20.5" transform="rotate(-28.3 257.5 1365)" stroke-width="1.6"/>
<path d="M231.2 1437.9C232.5 1434.6 234.2 1423.9 238.8 1417.7C243.4 1411.5 250.9 1406.2 259 1400.8C267.2 1395.5 279.3 1389.2 287.7 1385.7C296.1 1382.1 302.9 1380.6 309.6 1379.8C316.4 1378.9 323.7 1379.6 328.2 1380.6C332.7 1381.6 334.6 1383.7 336.6 1385.7C338.6 1387.6 339.7 1389.9 340 1392.4C340.3 1394.9 338.6 1399.4 338.3 1400.8" stroke-width="3.2"/>
<path d="M250.6 1448.1C253.4 1445 260.2 1435.4 267.5 1429.5C274.8 1423.6 286 1416.9 294.5 1412.6C302.9 1408.4 311.9 1405.5 318.1 1404.2C324.2 1402.9 329.3 1404.9 331.6 1405.1" stroke-width="1.6"/>
<path d="M233.7 1451.4C235.4 1451.2 238.2 1449.8 243.9 1449.8C249.5 1449.8 259.3 1452 267.5 1451.4C275.6 1450.9 284.3 1449.2 292.8 1446.4C301.2 1443.6 310.5 1439.3 318.1 1434.6C325.7 1429.8 333.5 1422.5 338.3 1417.7C343.1 1412.9 345 1408.7 346.7 1405.9C348.4 1403.1 348.1 1401.7 348.4 1400.8" stroke-width="3"/>
<path d="M237.1 1461.6C239.4 1462.1 244.1 1464.6 250.6 1464.9C257.1 1465.2 267.5 1464.9 275.9 1463.2C284.3 1461.6 292.8 1458.7 301.2 1454.8C309.6 1450.9 319.2 1445.3 326.5 1439.6C333.8 1434 340.8 1426.1 345 1421.1C349.3 1416 350.7 1411.2 351.8 1409.3" stroke-width="3"/>
<path d="M243.9 1473.4C246.1 1473.9 250.6 1476.7 257.3 1476.7C264.1 1476.7 275.3 1475.6 284.3 1473.4C293.3 1471.1 302.9 1467.5 311.3 1463.2C319.8 1459 328.2 1453.7 334.9 1448.1C341.7 1442.4 347.9 1434.6 351.8 1429.5C355.7 1424.5 357.4 1419.7 358.5 1417.7" stroke-width="3"/>
<path d="M250.6 1481.8C252.8 1482.4 257.1 1485.5 264.1 1485.2C271.1 1484.9 283.2 1482.9 292.8 1480.1C302.3 1477.3 312.7 1473.1 321.4 1468.3C330.2 1463.5 339.1 1457.1 345 1451.4C351 1445.8 354.9 1437.4 356.9 1434.6" stroke-width="2"/>
<path d="M231.2 1437.9C231.6 1440.2 232.5 1446.9 233.7 1451.4C235 1455.9 236.8 1460.7 238.8 1464.9C240.8 1469.1 243.6 1473.6 245.5 1476.7C247.5 1479.8 248.3 1482.1 250.6 1483.5C252.8 1484.9 257.6 1484.9 259 1485.2" stroke-width="3"/>
<path d="M338.3 1385.7C339.7 1387.6 344.5 1393.5 346.7 1397.5C349 1401.4 350.1 1405.9 351.8 1409.3C353.5 1412.6 355.7 1414.6 356.9 1417.7C358 1420.8 358.8 1424.5 358.5 1427.8C358.3 1431.2 357.1 1434.6 355.2 1437.9C353.2 1441.3 348.1 1446.4 346.7 1448.1" stroke-width="3"/>
<path d="M321.4 1421.1C321.4 1419.4 323.7 1417.1 324.8 1417.7C325.9 1418.3 328.2 1422.8 328.2 1424.5C328.2 1426.1 325.9 1428.4 324.8 1427.8C323.7 1427.3 321.4 1422.8 321.4 1421.1Z" stroke-width="2.5"/>
<path d="M334.9 1458.2C336.1 1457.1 340 1452 341.7 1451.4C343.4 1450.9 345.6 1452.8 345 1454.8C344.5 1456.8 339.4 1461.8 338.3 1463.2" stroke-width="2.5"/>
<path d="M259 1485.2C260.4 1487.4 261.8 1492.8 267.5 1498.7C273.1 1504.6 284.3 1514.4 292.8 1520.6C301.2 1526.8 308.2 1531.3 318.1 1535.8C327.9 1540.3 340.6 1544.8 351.8 1547.6C363 1550.4 374.3 1552.1 385.5 1552.6C396.8 1553.2 407.5 1552.4 419.3 1550.9C431.1 1549.5 450.2 1545.3 456.4 1544.2" stroke-width="3.2"/>
<path d="M358.5 1426.1C360.2 1427.4 364.7 1431.5 368.7 1433.7C372.6 1436 377.9 1438.2 382.2 1439.6C386.4 1441 390.3 1441.9 394 1442.2C397.6 1442.4 402.4 1441.2 404.1 1441" stroke-width="3"/>
<path d="M400.7 1439.6C401.6 1438.2 403 1433.9 405.8 1431.2C408.6 1428.5 413.4 1425.4 417.6 1423.6C421.8 1421.8 428.8 1420.8 431.1 1420.2" stroke-width="3"/>
<path d="M404.1 1437.9C406.6 1437.7 413.9 1435.4 419.3 1436.3C424.6 1437.1 430.5 1439.3 436.1 1443C441.7 1446.7 447.9 1452.6 453 1458.2C458.1 1463.8 462.8 1470 466.5 1476.7C470.1 1483.5 473 1491.4 474.9 1498.7C476.9 1506 478.6 1514.7 478.3 1520.6C478 1526.5 476.9 1530.1 473.2 1534.1C469.6 1538 459.2 1542.5 456.4 1544.2" stroke-width="2"/>
<path d="M431.1 1417.7C434.7 1416.3 446.5 1410.4 453 1409.3C459.5 1408.1 464.2 1409 469.9 1411C475.5 1412.9 481.7 1416.3 486.7 1421.1C491.8 1425.9 496 1432.3 500.2 1439.6C504.4 1446.9 509.2 1456.5 512 1464.9C514.8 1473.4 516.5 1481.8 517.1 1490.2C517.6 1498.7 517.1 1509.6 515.4 1515.5C513.7 1521.4 510.3 1523.4 507 1525.6C503.6 1527.9 497.1 1528.5 495.2 1529" stroke-width="3.2"/>
<path d="M436.1 1421.1C440.3 1421.1 453.6 1418.8 461.4 1421.1C469.3 1423.3 477.4 1428.4 483.4 1434.6C489.3 1440.8 493.5 1450.3 496.8 1458.2C500.2 1466.1 502.2 1473.6 503.6 1481.8C505 1489.9 506.1 1499.8 505.3 1507.1C504.4 1514.4 501.6 1521.2 498.5 1525.6C495.4 1530.1 492.6 1531.3 486.7 1534.1C480.8 1536.9 467 1541.1 463.1 1542.5" stroke-width="2"/>
<path d="M434.4 1424.5C438.4 1424.7 450.7 1423.6 458.1 1426.1C465.4 1428.7 473 1433.7 478.3 1439.6C483.6 1445.5 487 1453.7 490.1 1461.6C493.2 1469.4 495.7 1478.4 496.8 1486.9C498 1495.3 498 1504.6 496.8 1512.2C495.7 1519.7 494 1527.3 490.1 1532.4C486.2 1537.5 476 1540.8 473.2 1542.5" stroke-width="2.2"/>
<path d="M431.1 1427.8C434.7 1428.4 446.2 1428.4 453 1431.2C459.7 1434 466.2 1438.5 471.5 1444.7C476.9 1450.9 481.9 1459.9 485 1468.3C488.1 1476.7 489.5 1486.6 490.1 1495.3C490.7 1504 489.5 1513.8 488.4 1520.6C487.3 1527.3 484.2 1533.2 483.4 1535.8" stroke-width="1.5"/>
<path d="M634 1477L618.1 1477Q614.1 1477 614.1 1483.3Q614.1 1489.6 619.1 1489.6L634 1489.6Z" style="fill:#000" stroke-width="0.5"/>
<path d="M617.8 1479.8L631 1479.8L631 1485.4L619.3 1485.4Z" style="fill:#fff;stroke:none"/>
<ellipse cx="639.3" cy="1482.2" rx="7.5" ry="8.5" style="fill:#000" stroke-width="0.5"/>
<path d="M636.8 1484.7Q639.3 1487.7 642.3 1485.2" style="stroke:#fff" stroke-width="1"/>
<path d="M637.8 1478.7L639.8 1477.7" style="stroke:#fff" stroke-width="0.8"/>
<path d="M1157 1174.4L1141 1174.4Q1137 1174.4 1137 1180.6Q1137 1186.8 1142 1186.8L1157 1186.8Z" style="fill:#000" stroke-width="0.5"/>
<path d="M1141.5 1176.5L1154 1176.5L1154 1183L1143 1183Z" style="fill:#fff;stroke:none"/>
<ellipse cx="1162.2" cy="1179.8" rx="8.2" ry="8.9" style="fill:#000" stroke-width="0.5"/>
<path d="M1159.7 1182.3Q1162.2 1185.3 1165.2 1182.8" style="stroke:#fff" stroke-width="1"/>
<path d="M1160.7 1176.3L1162.7 1175.3" style="stroke:#fff" stroke-width="0.8"/>
</svg>
</body></html>
